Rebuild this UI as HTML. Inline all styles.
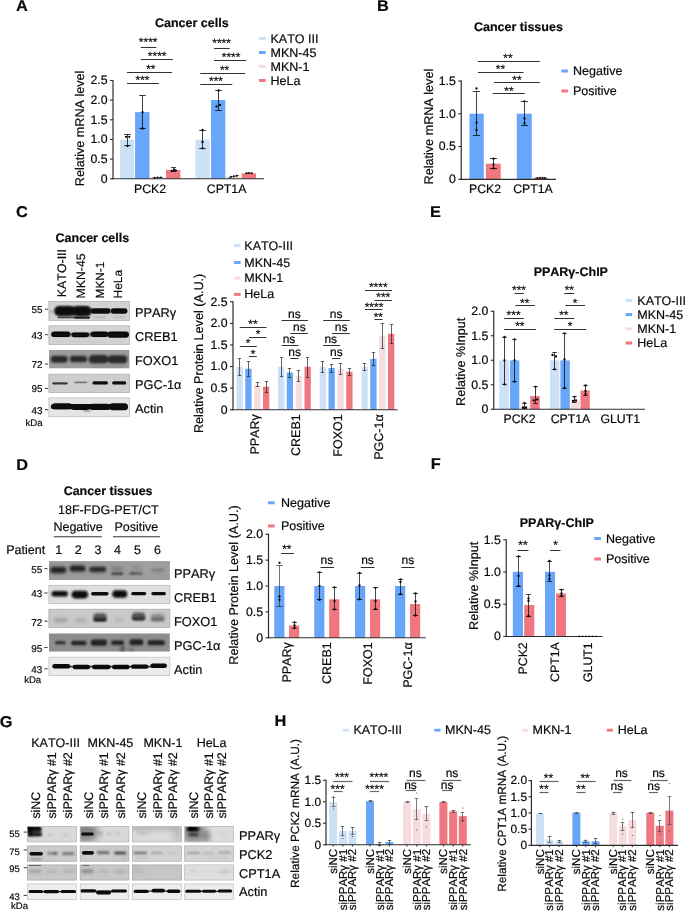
<!DOCTYPE html>
<html lang="en">
<head>
<meta charset="utf-8">
<title>Figure</title>
<style>
html,body{margin:0;padding:0;background:#ffffff;}
body{width:685px;height:911px;overflow:hidden;font-family:"Liberation Sans",sans-serif;}
svg{display:block;font-family:"Liberation Sans",sans-serif;will-change:transform;text-rendering:geometricPrecision;font-kerning:none;}
svg text{fill:#0a0a0a;stroke:#000;stroke-width:0.18px;}
</style>
</head>
<body>
<svg width="685" height="911" viewBox="0 0 685 911">
<defs>
<filter id="b6" x="-50%" y="-150%" width="200%" height="400%"><feGaussianBlur stdDeviation="0.6"/></filter>
<filter id="b7" x="-50%" y="-150%" width="200%" height="400%"><feGaussianBlur stdDeviation="0.7"/></filter>
<filter id="b8" x="-50%" y="-150%" width="200%" height="400%"><feGaussianBlur stdDeviation="0.8"/></filter>
<filter id="b9" x="-50%" y="-150%" width="200%" height="400%"><feGaussianBlur stdDeviation="0.9"/></filter>
<filter id="b10" x="-50%" y="-150%" width="200%" height="400%"><feGaussianBlur stdDeviation="1"/></filter>
<filter id="b13" x="-50%" y="-150%" width="200%" height="400%"><feGaussianBlur stdDeviation="1.3"/></filter>
<filter id="b15" x="-50%" y="-150%" width="200%" height="400%"><feGaussianBlur stdDeviation="1.5"/></filter>
<filter id="b20" x="-50%" y="-150%" width="200%" height="400%"><feGaussianBlur stdDeviation="2"/></filter>
<filter id="b30" x="-50%" y="-150%" width="200%" height="400%"><feGaussianBlur stdDeviation="3"/></filter>
</defs>
<rect x="0" y="0" width="685" height="911" fill="#ffffff"/>
<text transform="translate(16 11.4) scale(1.05 1)" font-size="15.6" font-weight="bold" fill="#000">A</text>
<text transform="translate(377 11.3) scale(1.05 1)" font-size="15.6" font-weight="bold" fill="#000">B</text>
<text transform="translate(16 217.3) scale(1.05 1)" font-size="15.6" font-weight="bold" fill="#000">C</text>
<text transform="translate(430 217.3) scale(1.05 1)" font-size="15.6" font-weight="bold" fill="#000">E</text>
<text transform="translate(16.2 469.7) scale(1.05 1)" font-size="15.6" font-weight="bold" fill="#000">D</text>
<text transform="translate(430.7 469.1) scale(1.05 1)" font-size="15.6" font-weight="bold" fill="#000">F</text>
<text transform="translate(-0.3 726.7) scale(1.05 1)" font-size="15.6" font-weight="bold" fill="#000">G</text>
<text transform="translate(274.6 726.3) scale(1.05 1)" font-size="15.6" font-weight="bold" fill="#000">H</text>
<text x="191.8" y="26.5" font-size="12.5" text-anchor="middle" font-weight="bold" fill="#000">Cancer cells</text>
<rect x="120" y="139.6" width="14.1" height="39.15" fill="#cce0f6"/>
<rect x="135.1" y="112.1" width="14.4" height="66.65" fill="#68a6fa"/>
<rect x="150.4" y="177.7" width="14.2" height="1.05" fill="#f6dcdf"/>
<rect x="166" y="170" width="14.3" height="8.75" fill="#f0767f"/>
<rect x="195.5" y="139.6" width="14.3" height="39.15" fill="#cce0f6"/>
<rect x="211" y="100" width="14.3" height="78.75" fill="#68a6fa"/>
<rect x="226.6" y="176.4" width="14" height="2.35" fill="#f6dcdf"/>
<rect x="241.8" y="173.3" width="14.2" height="5.45" fill="#f0767f"/>
<line x1="112.4" y1="178.75" x2="264" y2="178.75" stroke="#2c2c2c" stroke-width="1.2"/>
<line x1="113" y1="79.9" x2="113" y2="179.35" stroke="#2c2c2c" stroke-width="1.2"/>
<line x1="110" y1="80.5" x2="113" y2="80.5" stroke="#2c2c2c" stroke-width="1.1"/>
<text x="107.5" y="84.43" font-size="12.3" text-anchor="end">2.5</text>
<line x1="110" y1="100.15" x2="113" y2="100.15" stroke="#2c2c2c" stroke-width="1.1"/>
<text x="107.5" y="104.08" font-size="12.3" text-anchor="end">2.0</text>
<line x1="110" y1="119.8" x2="113" y2="119.8" stroke="#2c2c2c" stroke-width="1.1"/>
<text x="107.5" y="123.73" font-size="12.3" text-anchor="end">1.5</text>
<line x1="110" y1="139.45" x2="113" y2="139.45" stroke="#2c2c2c" stroke-width="1.1"/>
<text x="107.5" y="143.38" font-size="12.3" text-anchor="end">1.0</text>
<line x1="110" y1="159.1" x2="113" y2="159.1" stroke="#2c2c2c" stroke-width="1.1"/>
<text x="107.5" y="163.03" font-size="12.3" text-anchor="end">0.5</text>
<line x1="110" y1="178.75" x2="113" y2="178.75" stroke="#2c2c2c" stroke-width="1.1"/>
<text x="107.5" y="182.68" font-size="12.3" text-anchor="end">0</text>
<text x="83.6" y="128.4" font-size="12.62" text-anchor="middle" transform="rotate(-90 83.6 128.4)">Relative mRNA level</text>
<text x="150" y="192.7" font-size="12.3" text-anchor="middle">PCK2</text>
<text x="226.6" y="192.7" font-size="12.3" text-anchor="middle">CPT1A</text>
<line x1="127.5" y1="134.5" x2="127.5" y2="145.5" stroke="#000" stroke-width="0.75"/>
<line x1="124.2" y1="134.5" x2="130.8" y2="134.5" stroke="#000" stroke-width="0.75"/>
<line x1="124.2" y1="145.5" x2="130.8" y2="145.5" stroke="#000" stroke-width="0.75"/>
<circle cx="126" cy="136.8" r="1.15" fill="#000"/>
<circle cx="129.3" cy="136.8" r="1.15" fill="#000"/>
<circle cx="127.5" cy="146.2" r="1.15" fill="#000"/>
<line x1="142.5" y1="95.5" x2="142.5" y2="128.5" stroke="#000" stroke-width="0.75"/>
<line x1="139.2" y1="95.5" x2="145.8" y2="95.5" stroke="#000" stroke-width="0.75"/>
<line x1="139.2" y1="128.5" x2="145.8" y2="128.5" stroke="#000" stroke-width="0.75"/>
<circle cx="142.5" cy="112.2" r="1.15" fill="#000"/>
<circle cx="142.5" cy="128.5" r="1.15" fill="#000"/>
<line x1="152.5" y1="178" x2="163" y2="177.4" stroke="#222" stroke-width="0.7"/>
<circle cx="154.5" cy="177.7" r="0.95" fill="#000"/>
<circle cx="157.5" cy="177.5" r="0.95" fill="#000"/>
<circle cx="160.5" cy="177.4" r="0.95" fill="#000"/>
<line x1="173.5" y1="167.5" x2="173.5" y2="171.5" stroke="#000" stroke-width="0.7"/>
<line x1="170.9" y1="167.5" x2="176.1" y2="167.5" stroke="#000" stroke-width="0.7"/>
<line x1="170.9" y1="171.5" x2="176.1" y2="171.5" stroke="#000" stroke-width="0.7"/>
<circle cx="171.7" cy="171" r="1.15" fill="#000"/>
<circle cx="174.3" cy="169.6" r="1.15" fill="#000"/>
<circle cx="175.9" cy="170.6" r="1.15" fill="#000"/>
<line x1="202.5" y1="130.5" x2="202.5" y2="148.5" stroke="#000" stroke-width="0.75"/>
<line x1="199.2" y1="130.5" x2="205.8" y2="130.5" stroke="#000" stroke-width="0.75"/>
<line x1="199.2" y1="148.5" x2="205.8" y2="148.5" stroke="#000" stroke-width="0.75"/>
<circle cx="202.5" cy="130" r="1.15" fill="#000"/>
<circle cx="202.5" cy="142" r="1.15" fill="#000"/>
<circle cx="202.5" cy="148.3" r="1.15" fill="#000"/>
<line x1="218.5" y1="90.5" x2="218.5" y2="110.5" stroke="#000" stroke-width="0.75"/>
<line x1="215.2" y1="90.5" x2="221.8" y2="90.5" stroke="#000" stroke-width="0.75"/>
<line x1="215.2" y1="110.5" x2="221.8" y2="110.5" stroke="#000" stroke-width="0.75"/>
<circle cx="218.5" cy="90.5" r="1.15" fill="#000"/>
<circle cx="216.5" cy="106.5" r="1.15" fill="#000"/>
<circle cx="220" cy="105" r="1.15" fill="#000"/>
<line x1="228.5" y1="177.6" x2="239" y2="175.4" stroke="#222" stroke-width="0.7"/>
<circle cx="231" cy="176.8" r="0.95" fill="#000"/>
<circle cx="233.8" cy="176.2" r="0.95" fill="#000"/>
<circle cx="236.6" cy="175.8" r="0.95" fill="#000"/>
<line x1="245" y1="173.2" x2="253" y2="173.2" stroke="#222" stroke-width="0.7"/>
<circle cx="246.6" cy="173.2" r="0.95" fill="#000"/>
<circle cx="249" cy="172.9" r="0.95" fill="#000"/>
<circle cx="251.6" cy="173.2" r="0.95" fill="#000"/>
<line x1="140.8" y1="47.5" x2="156.3" y2="47.5" stroke="#262626" stroke-width="0.95"/>
<text x="148.2" y="46.4" font-size="12" text-anchor="middle">****</text>
<line x1="140.8" y1="59.5" x2="172.8" y2="59.5" stroke="#262626" stroke-width="0.95"/>
<text x="157.2" y="60.3" font-size="12" text-anchor="middle">****</text>
<line x1="127" y1="72.5" x2="172" y2="72.5" stroke="#262626" stroke-width="0.95"/>
<text x="150.8" y="73.1" font-size="12" text-anchor="middle">**</text>
<line x1="127" y1="83.5" x2="158.8" y2="83.5" stroke="#262626" stroke-width="0.95"/>
<text x="142.5" y="84.1" font-size="12" text-anchor="middle">***</text>
<line x1="214" y1="48.5" x2="229.8" y2="48.5" stroke="#262626" stroke-width="0.95"/>
<text x="221.6" y="47.3" font-size="12" text-anchor="middle">****</text>
<line x1="214" y1="60.5" x2="246.2" y2="60.5" stroke="#262626" stroke-width="0.95"/>
<text x="231.1" y="61.3" font-size="12" text-anchor="middle">****</text>
<line x1="200.3" y1="73.5" x2="245.2" y2="73.5" stroke="#262626" stroke-width="0.95"/>
<text x="224.6" y="74.1" font-size="12" text-anchor="middle">**</text>
<line x1="200.3" y1="84.5" x2="232.3" y2="84.5" stroke="#262626" stroke-width="0.95"/>
<text x="216" y="85.1" font-size="12" text-anchor="middle">***</text>
<rect x="259" y="37" width="6.6" height="3" fill="#cce0f6"/>
<text x="270.5" y="42.5" font-size="12.5">KATO III</text>
<rect x="259" y="51" width="6.6" height="3" fill="#68a6fa"/>
<text x="270.5" y="56.5" font-size="12.5">MKN-45</text>
<rect x="259" y="65" width="6.6" height="3" fill="#f6dcdf"/>
<text x="270.5" y="70.5" font-size="12.5">MKN-1</text>
<rect x="259" y="79" width="6.6" height="3" fill="#f0767f"/>
<text x="270.5" y="84.5" font-size="12.5">HeLa</text>
<text x="518.4" y="31.3" font-size="12.5" text-anchor="middle" font-weight="bold" fill="#000">Cancer tissues</text>
<rect x="469.5" y="113.7" width="14.3" height="65.6" fill="#68a6fa"/>
<rect x="485.8" y="163.7" width="14.9" height="15.6" fill="#f0767f"/>
<rect x="516.8" y="113.7" width="15" height="65.6" fill="#68a6fa"/>
<rect x="533" y="178" width="15" height="1.3" fill="#f0767f"/>
<line x1="460.65" y1="179.3" x2="556" y2="179.3" stroke="#2c2c2c" stroke-width="1.2"/>
<line x1="461.25" y1="80.45" x2="461.25" y2="179.9" stroke="#2c2c2c" stroke-width="1.2"/>
<line x1="458.25" y1="81.05" x2="461.25" y2="81.05" stroke="#2c2c2c" stroke-width="1.1"/>
<text x="455.75" y="84.98" font-size="12.3" text-anchor="end">1.5</text>
<line x1="458.25" y1="113.8" x2="461.25" y2="113.8" stroke="#2c2c2c" stroke-width="1.1"/>
<text x="455.75" y="117.73" font-size="12.3" text-anchor="end">1.0</text>
<line x1="458.25" y1="146.55" x2="461.25" y2="146.55" stroke="#2c2c2c" stroke-width="1.1"/>
<text x="455.75" y="150.48" font-size="12.3" text-anchor="end">0.5</text>
<line x1="458.25" y1="179.3" x2="461.25" y2="179.3" stroke="#2c2c2c" stroke-width="1.1"/>
<text x="455.75" y="183.23" font-size="12.3" text-anchor="end">0</text>
<text x="433.1" y="126.6" font-size="12.62" text-anchor="middle" transform="rotate(-90 433.1 126.6)">Relative mRNA level</text>
<text x="485" y="192.7" font-size="12.3" text-anchor="middle">PCK2</text>
<text x="533" y="192.7" font-size="12.3" text-anchor="middle">CPT1A</text>
<line x1="476.5" y1="91.5" x2="476.5" y2="135.5" stroke="#000" stroke-width="0.75"/>
<line x1="472.9" y1="91.5" x2="480.1" y2="91.5" stroke="#000" stroke-width="0.75"/>
<line x1="472.9" y1="135.5" x2="480.1" y2="135.5" stroke="#000" stroke-width="0.75"/>
<circle cx="476.5" cy="88.5" r="1.15" fill="#000"/>
<circle cx="476.5" cy="122.7" r="1.15" fill="#000"/>
<circle cx="476.5" cy="130" r="1.15" fill="#000"/>
<line x1="493.5" y1="158.5" x2="493.5" y2="168.5" stroke="#000" stroke-width="0.75"/>
<line x1="489.9" y1="158.5" x2="497.1" y2="158.5" stroke="#000" stroke-width="0.75"/>
<line x1="489.9" y1="168.5" x2="497.1" y2="168.5" stroke="#000" stroke-width="0.75"/>
<circle cx="493.5" cy="158.7" r="1.15" fill="#000"/>
<circle cx="493.5" cy="164.5" r="1.15" fill="#000"/>
<circle cx="493.5" cy="168.3" r="1.15" fill="#000"/>
<line x1="524.5" y1="101.5" x2="524.5" y2="125.5" stroke="#000" stroke-width="0.75"/>
<line x1="520.9" y1="101.5" x2="528.1" y2="101.5" stroke="#000" stroke-width="0.75"/>
<line x1="520.9" y1="125.5" x2="528.1" y2="125.5" stroke="#000" stroke-width="0.75"/>
<circle cx="524.5" cy="101.3" r="1.15" fill="#000"/>
<circle cx="524.5" cy="118.5" r="1.15" fill="#000"/>
<circle cx="524.5" cy="123" r="1.15" fill="#000"/>
<line x1="535" y1="178.2" x2="546.5" y2="177.8" stroke="#222" stroke-width="0.7"/>
<circle cx="537.5" cy="178" r="0.9" fill="#000"/>
<circle cx="540" cy="177.7" r="0.9" fill="#000"/>
<circle cx="542.6" cy="177.7" r="0.9" fill="#000"/>
<circle cx="545" cy="178" r="0.9" fill="#000"/>
<line x1="477.8" y1="61.5" x2="539.8" y2="61.5" stroke="#262626" stroke-width="0.95"/>
<text x="508" y="62" font-size="12" text-anchor="middle">**</text>
<line x1="477.8" y1="72.5" x2="523.5" y2="72.5" stroke="#262626" stroke-width="0.95"/>
<text x="500.5" y="73" font-size="12" text-anchor="middle">**</text>
<line x1="494" y1="82.5" x2="539.8" y2="82.5" stroke="#262626" stroke-width="0.95"/>
<text x="517" y="83.6" font-size="12" text-anchor="middle">**</text>
<line x1="492.8" y1="93.5" x2="524.8" y2="93.5" stroke="#262626" stroke-width="0.95"/>
<text x="509" y="94.6" font-size="12" text-anchor="middle">**</text>
<rect x="561.3" y="69.5" width="6.6" height="3" fill="#68a6fa"/>
<text x="573" y="75" font-size="12.5">Negative</text>
<rect x="561.3" y="89.5" width="6.6" height="3" fill="#f0767f"/>
<text x="573" y="95" font-size="12.5">Positive</text>
<text x="92.4" y="242" font-size="12.5" text-anchor="middle" font-weight="bold" fill="#000">Cancer cells</text>
<text x="65.9" y="297.2" font-size="12.4" transform="rotate(-90 65.9 297.2)">KATO-III</text>
<text x="85.1" y="298.4" font-size="12.25" transform="rotate(-90 85.1 298.4)">MKN-45</text>
<text x="103.9" y="298.4" font-size="11.8" transform="rotate(-90 103.9 298.4)">MKN-1</text>
<text x="122.1" y="298.4" font-size="11.9" transform="rotate(-90 122.1 298.4)">HeLa</text>
<clipPath id="c1"><rect x="48.9" y="301.4" width="80.7" height="19.2"/></clipPath>
<g clip-path="url(#c1)">
<rect x="48.9" y="301.4" width="80.7" height="19.2" fill="#d3d3d3"/>
<rect x="54.5" y="306.8" width="37" height="8.4" rx="4.2" ry="4.2" fill="#0a0a0a" opacity="1" filter="url(#b8)"/>
<rect x="55" y="306.5" width="19" height="9" rx="4.5" ry="4.5" fill="#0a0a0a" opacity="1" filter="url(#b8)"/>
<rect x="73" y="306.5" width="18" height="9.4" rx="4.7" ry="4.7" fill="#0a0a0a" opacity="1" filter="url(#b8)"/>
<rect x="90.75" y="308.2" width="19.5" height="5.6" rx="2.8" ry="2.8" fill="#0a0a0a" opacity="1" filter="url(#b6)"/>
<rect x="110.95" y="308.2" width="16.5" height="5.6" rx="2.8" ry="2.8" fill="#0a0a0a" opacity="1" filter="url(#b6)"/>
<rect x="107" y="309.5" width="6" height="3" rx="1.5" ry="1.5" fill="#0a0a0a" opacity="0.7" filter="url(#b8)"/>
<rect x="57.5" y="316.5" width="17" height="1.8" rx="0.9" ry="0.9" fill="#222" opacity="0.8" filter="url(#b6)"/>
<rect x="74" y="316.6" width="16" height="2.2" rx="1.1" ry="1.1" fill="#111" opacity="0.9" filter="url(#b6)"/>
<rect x="94" y="316.55" width="12" height="1.5" rx="0.75" ry="0.75" fill="#555" opacity="0.35" filter="url(#b10)"/>
<rect x="113" y="316.55" width="12" height="1.5" rx="0.75" ry="0.75" fill="#555" opacity="0.3" filter="url(#b10)"/>
<rect x="49.5" y="310" width="5" height="3" rx="1.5" ry="1.5" fill="#777" opacity="0.4" filter="url(#b10)"/>
</g>
<rect x="48.9" y="301.4" width="80.7" height="19.2" fill="none" stroke="#a8a8a8" stroke-width="0.7"/>
<clipPath id="c2"><rect x="48.9" y="325.8" width="80.7" height="18.8"/></clipPath>
<g clip-path="url(#c2)">
<rect x="48.9" y="325.8" width="80.7" height="18.8" fill="#d5d5d5"/>
<rect x="51.2" y="331.5" width="19" height="5.6" rx="2.8" ry="2.8" fill="#0a0a0a" opacity="1" filter="url(#b7)"/>
<rect x="71.55" y="332.4" width="17.5" height="4.8" rx="2.4" ry="2.4" fill="#0a0a0a" opacity="1" filter="url(#b7)"/>
<rect x="90.75" y="331.6" width="17.5" height="5.4" rx="2.7" ry="2.7" fill="#0a0a0a" opacity="1" filter="url(#b7)"/>
<rect x="107.55" y="331.5" width="21.5" height="6.2" rx="3.1" ry="3.1" fill="#0a0a0a" opacity="1" filter="url(#b7)"/>
<rect x="54" y="333.5" width="72" height="2.2" rx="1.1" ry="1.1" fill="#0a0a0a" opacity="0.9" filter="url(#b8)"/>
<rect x="55" y="340.5" width="70" height="2" rx="1" ry="1" fill="#bbb" opacity="0.5" filter="url(#b15)"/>
</g>
<rect x="48.9" y="325.8" width="80.7" height="18.8" fill="none" stroke="#aaaaaa" stroke-width="0.7"/>
<clipPath id="c3"><rect x="48.9" y="350" width="80.7" height="18.6"/></clipPath>
<g clip-path="url(#c3)">
<rect x="48.9" y="350" width="80.7" height="18.6" fill="#9c9c9c"/>
<rect x="50.7" y="355.7" width="17" height="7" rx="3.5" ry="3.5" fill="#2c2c2c" opacity="1" filter="url(#b9)"/>
<rect x="69.8" y="355.8" width="17.4" height="6.4" rx="3.2" ry="3.2" fill="#2c2c2c" opacity="1" filter="url(#b9)"/>
<rect x="88.7" y="354.9" width="19.4" height="8.6" rx="4.3" ry="4.3" fill="#2c2c2c" opacity="1" filter="url(#b9)"/>
<rect x="108.4" y="355.3" width="18.8" height="8.2" rx="4.1" ry="4.1" fill="#2c2c2c" opacity="1" filter="url(#b9)"/>
<rect x="102" y="357.05" width="12" height="4.5" rx="2.25" ry="2.25" fill="#2c2c2c" opacity="0.9" filter="url(#b9)"/>
<rect x="93" y="364.5" width="30" height="3" rx="1.5" ry="1.5" fill="#8a8a8a" opacity="0.6" filter="url(#b15)"/>
</g>
<clipPath id="c4"><rect x="48.9" y="374.2" width="80.7" height="18.4"/></clipPath>
<g clip-path="url(#c4)">
<rect x="48.9" y="374.2" width="80.7" height="18.4" fill="#cecece"/>
<rect x="52.25" y="382.2" width="15.5" height="2.2" rx="1.1" ry="1.1" fill="#222" opacity="0.85" filter="url(#b6)"/>
<rect x="74.3" y="381.4" width="13" height="1.8" rx="0.9" ry="0.9" fill="#333" opacity="0.55" filter="url(#b6)"/>
<rect x="92.45" y="381.3" width="15.5" height="3.2" rx="1.6" ry="1.6" fill="#0a0a0a" opacity="1" filter="url(#b6)"/>
<rect x="112.2" y="381.3" width="14" height="3.2" rx="1.6" ry="1.6" fill="#0a0a0a" opacity="1" filter="url(#b6)"/>
</g>
<rect x="48.9" y="374.2" width="80.7" height="18.4" fill="none" stroke="#a4a4a4" stroke-width="0.7"/>
<clipPath id="c5"><rect x="48.9" y="397.9" width="80.7" height="18.6"/></clipPath>
<g clip-path="url(#c5)">
<rect x="48.9" y="397.9" width="80.7" height="18.6" fill="#e5e5e5"/>
<rect x="50.8" y="403.9" width="77" height="5.4" rx="2.7" ry="2.7" fill="#0a0a0a" opacity="1" filter="url(#b7)"/>
<rect x="52" y="403.3" width="20" height="6" rx="3" ry="3" fill="#0a0a0a" opacity="1" filter="url(#b7)"/>
<rect x="71" y="404.1" width="18" height="6" rx="3" ry="3" fill="#0a0a0a" opacity="1" filter="url(#b7)"/>
<rect x="90" y="403.7" width="20" height="6.4" rx="3.2" ry="3.2" fill="#0a0a0a" opacity="1" filter="url(#b7)"/>
<rect x="109" y="403.2" width="19" height="7" rx="3.5" ry="3.5" fill="#0a0a0a" opacity="1" filter="url(#b7)"/>
<rect x="83.5" y="408.8" width="7" height="2.4" rx="1.2" ry="1.2" fill="#0a0a0a" opacity="0.5" filter="url(#b8)"/>
</g>
<rect x="48.9" y="397.9" width="80.7" height="18.6" fill="none" stroke="#b7b7b7" stroke-width="0.7"/>
<text x="42.5" y="313.11" font-size="9.9" text-anchor="end">55</text>
<line x1="44.9" y1="309.2" x2="48.1" y2="309.2" stroke="#222" stroke-width="0.9"/>
<text x="42.5" y="338.61" font-size="9.9" text-anchor="end">43</text>
<line x1="44.9" y1="334.7" x2="48.1" y2="334.7" stroke="#222" stroke-width="0.9"/>
<text x="42.5" y="368.01" font-size="9.9" text-anchor="end">72</text>
<line x1="44.9" y1="364.1" x2="48.1" y2="364.1" stroke="#222" stroke-width="0.9"/>
<text x="42.5" y="392.31" font-size="9.9" text-anchor="end">95</text>
<line x1="44.9" y1="388.4" x2="48.1" y2="388.4" stroke="#222" stroke-width="0.9"/>
<text x="42.5" y="413.61" font-size="9.9" text-anchor="end">43</text>
<line x1="44.9" y1="409.7" x2="48.1" y2="409.7" stroke="#222" stroke-width="0.9"/>
<text x="42.5" y="426" font-size="9.6" text-anchor="end">kDa</text>
<text x="135" y="317.1" font-size="12.8">PPARγ</text>
<text x="135" y="341.1" font-size="12.8">CREB1</text>
<text x="135" y="364.8" font-size="12.8">FOXO1</text>
<text x="135" y="389.1" font-size="12.8">PGC-1α</text>
<text x="135" y="412.7" font-size="12.8">Actin</text>
<rect x="234" y="244.1" width="6.6" height="3" fill="#cce0f6"/>
<text x="244.3" y="249.6" font-size="12.5">KATO-III</text>
<rect x="234" y="261" width="6.6" height="3" fill="#68a6fa"/>
<text x="244.3" y="266.5" font-size="12.5">MKN-45</text>
<rect x="234" y="276.6" width="6.6" height="3" fill="#f6dcdf"/>
<text x="244.3" y="282.1" font-size="12.5">MKN-1</text>
<rect x="234" y="292.9" width="6.6" height="3" fill="#f0767f"/>
<text x="244.3" y="298.4" font-size="12.5">HeLa</text>
<rect x="236.5" y="366.75" width="6.3" height="43" fill="#cce0f6"/>
<rect x="245.25" y="368.75" width="6.3" height="41" fill="#68a6fa"/>
<rect x="254.2" y="385" width="6.3" height="24.75" fill="#f6dcdf"/>
<rect x="263" y="386.75" width="6.3" height="23" fill="#f0767f"/>
<rect x="278" y="366.75" width="6.3" height="43" fill="#cce0f6"/>
<rect x="286.75" y="372.5" width="6.3" height="37.25" fill="#68a6fa"/>
<rect x="295.7" y="376" width="6.3" height="33.75" fill="#f6dcdf"/>
<rect x="304.5" y="366.75" width="6.3" height="43" fill="#f0767f"/>
<rect x="319.75" y="366.75" width="6.3" height="43" fill="#cce0f6"/>
<rect x="328.5" y="368" width="6.3" height="41.75" fill="#68a6fa"/>
<rect x="337.45" y="368.6" width="6.3" height="41.15" fill="#f6dcdf"/>
<rect x="346.25" y="371.75" width="6.3" height="38" fill="#f0767f"/>
<rect x="361.5" y="366.75" width="6.3" height="43" fill="#cce0f6"/>
<rect x="370.25" y="358.75" width="6.3" height="51" fill="#68a6fa"/>
<rect x="379.2" y="336" width="6.3" height="73.75" fill="#f6dcdf"/>
<rect x="388" y="333.75" width="6.3" height="76" fill="#f0767f"/>
<line x1="232.4" y1="409.75" x2="397.5" y2="409.75" stroke="#2c2c2c" stroke-width="1.2"/>
<line x1="233" y1="301.15" x2="233" y2="410.35" stroke="#2c2c2c" stroke-width="1.2"/>
<line x1="230" y1="301.75" x2="233" y2="301.75" stroke="#2c2c2c" stroke-width="1.1"/>
<text x="227.5" y="305.68" font-size="12.3" text-anchor="end">2.5</text>
<line x1="230" y1="323.35" x2="233" y2="323.35" stroke="#2c2c2c" stroke-width="1.1"/>
<text x="227.5" y="327.28" font-size="12.3" text-anchor="end">2.0</text>
<line x1="230" y1="344.95" x2="233" y2="344.95" stroke="#2c2c2c" stroke-width="1.1"/>
<text x="227.5" y="348.88" font-size="12.3" text-anchor="end">1.5</text>
<line x1="230" y1="366.55" x2="233" y2="366.55" stroke="#2c2c2c" stroke-width="1.1"/>
<text x="227.5" y="370.48" font-size="12.3" text-anchor="end">1.0</text>
<line x1="230" y1="388.15" x2="233" y2="388.15" stroke="#2c2c2c" stroke-width="1.1"/>
<text x="227.5" y="392.08" font-size="12.3" text-anchor="end">0.5</text>
<line x1="230" y1="409.75" x2="233" y2="409.75" stroke="#2c2c2c" stroke-width="1.1"/>
<text x="227.5" y="413.68" font-size="12.3" text-anchor="end">0</text>
<line x1="239.5" y1="358.5" x2="239.5" y2="375.5" stroke="#222" stroke-width="0.7"/>
<line x1="237.8" y1="358.5" x2="241.2" y2="358.5" stroke="#222" stroke-width="0.7"/>
<line x1="237.8" y1="375.5" x2="241.2" y2="375.5" stroke="#222" stroke-width="0.7"/>
<line x1="248.5" y1="361.5" x2="248.5" y2="376.5" stroke="#222" stroke-width="0.7"/>
<line x1="246.8" y1="361.5" x2="250.2" y2="361.5" stroke="#222" stroke-width="0.7"/>
<line x1="246.8" y1="376.5" x2="250.2" y2="376.5" stroke="#222" stroke-width="0.7"/>
<line x1="257.5" y1="382.5" x2="257.5" y2="386.5" stroke="#222" stroke-width="0.7"/>
<line x1="255.8" y1="382.5" x2="259.2" y2="382.5" stroke="#222" stroke-width="0.7"/>
<line x1="255.8" y1="386.5" x2="259.2" y2="386.5" stroke="#222" stroke-width="0.7"/>
<line x1="266.5" y1="381.5" x2="266.5" y2="392.5" stroke="#222" stroke-width="0.7"/>
<line x1="264.8" y1="381.5" x2="268.2" y2="381.5" stroke="#222" stroke-width="0.7"/>
<line x1="264.8" y1="392.5" x2="268.2" y2="392.5" stroke="#222" stroke-width="0.7"/>
<line x1="281.5" y1="357.5" x2="281.5" y2="376.5" stroke="#222" stroke-width="0.7"/>
<line x1="279.8" y1="357.5" x2="283.2" y2="357.5" stroke="#222" stroke-width="0.7"/>
<line x1="279.8" y1="376.5" x2="283.2" y2="376.5" stroke="#222" stroke-width="0.7"/>
<line x1="289.5" y1="368.5" x2="289.5" y2="377.5" stroke="#222" stroke-width="0.7"/>
<line x1="287.8" y1="368.5" x2="291.2" y2="368.5" stroke="#222" stroke-width="0.7"/>
<line x1="287.8" y1="377.5" x2="291.2" y2="377.5" stroke="#222" stroke-width="0.7"/>
<line x1="298.5" y1="370.5" x2="298.5" y2="381.5" stroke="#222" stroke-width="0.7"/>
<line x1="296.8" y1="370.5" x2="300.2" y2="370.5" stroke="#222" stroke-width="0.7"/>
<line x1="296.8" y1="381.5" x2="300.2" y2="381.5" stroke="#222" stroke-width="0.7"/>
<line x1="307.5" y1="357.5" x2="307.5" y2="377.5" stroke="#222" stroke-width="0.7"/>
<line x1="305.8" y1="357.5" x2="309.2" y2="357.5" stroke="#222" stroke-width="0.7"/>
<line x1="305.8" y1="377.5" x2="309.2" y2="377.5" stroke="#222" stroke-width="0.7"/>
<line x1="322.5" y1="361.5" x2="322.5" y2="372.5" stroke="#222" stroke-width="0.7"/>
<line x1="320.8" y1="361.5" x2="324.2" y2="361.5" stroke="#222" stroke-width="0.7"/>
<line x1="320.8" y1="372.5" x2="324.2" y2="372.5" stroke="#222" stroke-width="0.7"/>
<line x1="331.5" y1="364.5" x2="331.5" y2="372.5" stroke="#222" stroke-width="0.7"/>
<line x1="329.8" y1="364.5" x2="333.2" y2="364.5" stroke="#222" stroke-width="0.7"/>
<line x1="329.8" y1="372.5" x2="333.2" y2="372.5" stroke="#222" stroke-width="0.7"/>
<line x1="340.5" y1="363.5" x2="340.5" y2="374.5" stroke="#222" stroke-width="0.7"/>
<line x1="338.8" y1="363.5" x2="342.2" y2="363.5" stroke="#222" stroke-width="0.7"/>
<line x1="338.8" y1="374.5" x2="342.2" y2="374.5" stroke="#222" stroke-width="0.7"/>
<line x1="349.5" y1="368.5" x2="349.5" y2="375.5" stroke="#222" stroke-width="0.7"/>
<line x1="347.8" y1="368.5" x2="351.2" y2="368.5" stroke="#222" stroke-width="0.7"/>
<line x1="347.8" y1="375.5" x2="351.2" y2="375.5" stroke="#222" stroke-width="0.7"/>
<line x1="364.5" y1="363.5" x2="364.5" y2="370.5" stroke="#222" stroke-width="0.7"/>
<line x1="362.8" y1="363.5" x2="366.2" y2="363.5" stroke="#222" stroke-width="0.7"/>
<line x1="362.8" y1="370.5" x2="366.2" y2="370.5" stroke="#222" stroke-width="0.7"/>
<line x1="373.5" y1="352.5" x2="373.5" y2="365.5" stroke="#222" stroke-width="0.7"/>
<line x1="371.8" y1="352.5" x2="375.2" y2="352.5" stroke="#222" stroke-width="0.7"/>
<line x1="371.8" y1="365.5" x2="375.2" y2="365.5" stroke="#222" stroke-width="0.7"/>
<line x1="382.5" y1="323.5" x2="382.5" y2="348.5" stroke="#222" stroke-width="0.7"/>
<line x1="380.8" y1="323.5" x2="384.2" y2="323.5" stroke="#222" stroke-width="0.7"/>
<line x1="380.8" y1="348.5" x2="384.2" y2="348.5" stroke="#222" stroke-width="0.7"/>
<line x1="391.5" y1="324.5" x2="391.5" y2="343.5" stroke="#222" stroke-width="0.7"/>
<line x1="389.8" y1="324.5" x2="393.2" y2="324.5" stroke="#222" stroke-width="0.7"/>
<line x1="389.8" y1="343.5" x2="393.2" y2="343.5" stroke="#222" stroke-width="0.7"/>
<text x="203.2" y="353.4" font-size="12.63" text-anchor="middle" transform="rotate(-90 203.2 353.4)">Relative Protein Level (A.U.)</text>
<text x="259" y="414.3" font-size="12.5" text-anchor="end" transform="rotate(-90 259 414.3)">PPARγ</text>
<text x="300.4" y="414.3" font-size="12.5" text-anchor="end" transform="rotate(-90 300.4 414.3)">CREB1</text>
<text x="341.6" y="414.3" font-size="12.5" text-anchor="end" transform="rotate(-90 341.6 414.3)">FOXO1</text>
<text x="383.2" y="414.3" font-size="12.5" text-anchor="end" transform="rotate(-90 383.2 414.3)">PGC-1α</text>
<line x1="239.8" y1="327.5" x2="266.5" y2="327.5" stroke="#262626" stroke-width="0.95"/>
<text x="253" y="328.1" font-size="12" text-anchor="middle">**</text>
<line x1="249" y1="337.5" x2="266.5" y2="337.5" stroke="#262626" stroke-width="0.95"/>
<text x="258" y="338.1" font-size="12" text-anchor="middle">*</text>
<line x1="239.8" y1="346.5" x2="256.8" y2="346.5" stroke="#262626" stroke-width="0.95"/>
<text x="248" y="347.3" font-size="12" text-anchor="middle">*</text>
<line x1="249" y1="356.5" x2="256.8" y2="356.5" stroke="#262626" stroke-width="0.95"/>
<text x="253" y="357.6" font-size="12" text-anchor="middle">*</text>
<line x1="281.5" y1="320.5" x2="308" y2="320.5" stroke="#262626" stroke-width="0.95"/>
<text x="294.3" y="317.8" font-size="12" text-anchor="middle">ns</text>
<line x1="290.3" y1="333.5" x2="308" y2="333.5" stroke="#262626" stroke-width="0.95"/>
<text x="299.3" y="331" font-size="12" text-anchor="middle">ns</text>
<line x1="281.5" y1="345.5" x2="298.5" y2="345.5" stroke="#262626" stroke-width="0.95"/>
<text x="289" y="343.1" font-size="12" text-anchor="middle">ns</text>
<line x1="290.3" y1="358.5" x2="298.5" y2="358.5" stroke="#262626" stroke-width="0.95"/>
<text x="294.7" y="355.5" font-size="12" text-anchor="middle">ns</text>
<line x1="323.25" y1="320.5" x2="349.75" y2="320.5" stroke="#262626" stroke-width="0.95"/>
<text x="336.05" y="317.8" font-size="12" text-anchor="middle">ns</text>
<line x1="332.05" y1="333.5" x2="349.75" y2="333.5" stroke="#262626" stroke-width="0.95"/>
<text x="341.05" y="331" font-size="12" text-anchor="middle">ns</text>
<line x1="323.25" y1="345.5" x2="340.25" y2="345.5" stroke="#262626" stroke-width="0.95"/>
<text x="330.75" y="343.1" font-size="12" text-anchor="middle">ns</text>
<line x1="332.05" y1="358.5" x2="340.25" y2="358.5" stroke="#262626" stroke-width="0.95"/>
<text x="336.45" y="355.5" font-size="12" text-anchor="middle">ns</text>
<line x1="365" y1="290.5" x2="392" y2="290.5" stroke="#262626" stroke-width="0.95"/>
<text x="378.3" y="290.8" font-size="12" text-anchor="middle">****</text>
<line x1="374.5" y1="300.5" x2="392" y2="300.5" stroke="#262626" stroke-width="0.95"/>
<text x="383.3" y="300.8" font-size="12" text-anchor="middle">***</text>
<line x1="365" y1="309.5" x2="382.5" y2="309.5" stroke="#262626" stroke-width="0.95"/>
<text x="374" y="310.6" font-size="12" text-anchor="middle">****</text>
<line x1="374.5" y1="319.5" x2="382.5" y2="319.5" stroke="#262626" stroke-width="0.95"/>
<text x="378.3" y="320.6" font-size="12" text-anchor="middle">**</text>
<text x="570.8" y="276.1" font-size="12.5" text-anchor="middle" font-weight="bold" fill="#000">PPARγ-ChIP</text>
<rect x="499.2" y="360.4" width="9.8" height="48.85" fill="#cce0f6"/>
<rect x="510" y="360.4" width="9.3" height="48.85" fill="#68a6fa"/>
<rect x="520" y="406.8" width="8.6" height="2.45" fill="#f6dcdf"/>
<rect x="530.2" y="396" width="9.5" height="13.25" fill="#f0767f"/>
<rect x="550" y="360.4" width="9.3" height="48.85" fill="#cce0f6"/>
<rect x="560.4" y="360.4" width="9.4" height="48.85" fill="#68a6fa"/>
<rect x="570.5" y="400.5" width="9.3" height="8.75" fill="#f6dcdf"/>
<rect x="580.5" y="390.5" width="9.3" height="18.75" fill="#f0767f"/>
<line x1="493.15" y1="409.25" x2="645" y2="409.25" stroke="#2c2c2c" stroke-width="1.2"/>
<line x1="493.75" y1="310.65" x2="493.75" y2="409.85" stroke="#2c2c2c" stroke-width="1.2"/>
<line x1="490.75" y1="311.25" x2="493.75" y2="311.25" stroke="#2c2c2c" stroke-width="1.1"/>
<text x="488.25" y="315.18" font-size="12.3" text-anchor="end">2.0</text>
<line x1="490.75" y1="335.75" x2="493.75" y2="335.75" stroke="#2c2c2c" stroke-width="1.1"/>
<text x="488.25" y="339.68" font-size="12.3" text-anchor="end">1.5</text>
<line x1="490.75" y1="360.25" x2="493.75" y2="360.25" stroke="#2c2c2c" stroke-width="1.1"/>
<text x="488.25" y="364.18" font-size="12.3" text-anchor="end">1.0</text>
<line x1="490.75" y1="384.75" x2="493.75" y2="384.75" stroke="#2c2c2c" stroke-width="1.1"/>
<text x="488.25" y="388.68" font-size="12.3" text-anchor="end">0.5</text>
<line x1="490.75" y1="409.25" x2="493.75" y2="409.25" stroke="#2c2c2c" stroke-width="1.1"/>
<text x="488.25" y="413.18" font-size="12.3" text-anchor="end">0</text>
<text x="465" y="361.8" font-size="12.6" text-anchor="middle" transform="rotate(-90 465 361.8)">Relative %Input</text>
<text x="519.5" y="423.3" font-size="12.3" text-anchor="middle">PCK2</text>
<text x="570.5" y="423.3" font-size="12.3" text-anchor="middle">CPT1A</text>
<text x="620.2" y="423.3" font-size="12.3" text-anchor="middle">GLUT1</text>
<line x1="504.5" y1="337.5" x2="504.5" y2="384.5" stroke="#000" stroke-width="0.75"/>
<line x1="502.3" y1="337.5" x2="506.7" y2="337.5" stroke="#000" stroke-width="0.75"/>
<line x1="502.3" y1="384.5" x2="506.7" y2="384.5" stroke="#000" stroke-width="0.75"/>
<circle cx="504.5" cy="337" r="1.15" fill="#000"/>
<circle cx="504.5" cy="360.4" r="1.15" fill="#000"/>
<circle cx="504.5" cy="384.4" r="1.15" fill="#000"/>
<line x1="514.5" y1="339.5" x2="514.5" y2="381.5" stroke="#000" stroke-width="0.75"/>
<line x1="512.3" y1="339.5" x2="516.7" y2="339.5" stroke="#000" stroke-width="0.75"/>
<line x1="512.3" y1="381.5" x2="516.7" y2="381.5" stroke="#000" stroke-width="0.75"/>
<circle cx="514.5" cy="339.4" r="1.15" fill="#000"/>
<circle cx="514.5" cy="360.4" r="1.15" fill="#000"/>
<circle cx="514.5" cy="381.8" r="1.15" fill="#000"/>
<line x1="524.5" y1="403.5" x2="524.5" y2="408.5" stroke="#000" stroke-width="0.75"/>
<line x1="522.3" y1="403.5" x2="526.7" y2="403.5" stroke="#000" stroke-width="0.75"/>
<line x1="522.3" y1="408.5" x2="526.7" y2="408.5" stroke="#000" stroke-width="0.75"/>
<circle cx="524.5" cy="403" r="1.15" fill="#000"/>
<circle cx="523" cy="407.5" r="1.15" fill="#000"/>
<circle cx="526" cy="407.5" r="1.15" fill="#000"/>
<line x1="535.5" y1="386.5" x2="535.5" y2="403.5" stroke="#000" stroke-width="0.75"/>
<line x1="533.3" y1="386.5" x2="537.7" y2="386.5" stroke="#000" stroke-width="0.75"/>
<line x1="533.3" y1="403.5" x2="537.7" y2="403.5" stroke="#000" stroke-width="0.75"/>
<circle cx="535.5" cy="386.8" r="1.15" fill="#000"/>
<circle cx="533.7" cy="400.5" r="1.15" fill="#000"/>
<circle cx="537.3" cy="399.5" r="1.15" fill="#000"/>
<line x1="554.5" y1="352.5" x2="554.5" y2="369.5" stroke="#000" stroke-width="0.75"/>
<line x1="552.3" y1="352.5" x2="556.7" y2="352.5" stroke="#000" stroke-width="0.75"/>
<line x1="552.3" y1="369.5" x2="556.7" y2="369.5" stroke="#000" stroke-width="0.75"/>
<circle cx="552.5" cy="355" r="1.15" fill="#000"/>
<circle cx="556" cy="356.5" r="1.15" fill="#000"/>
<circle cx="554.5" cy="369.3" r="1.15" fill="#000"/>
<line x1="564.5" y1="333.5" x2="564.5" y2="388.5" stroke="#000" stroke-width="0.75"/>
<line x1="562.3" y1="333.5" x2="566.7" y2="333.5" stroke="#000" stroke-width="0.75"/>
<line x1="562.3" y1="388.5" x2="566.7" y2="388.5" stroke="#000" stroke-width="0.75"/>
<circle cx="564.5" cy="333.5" r="1.15" fill="#000"/>
<circle cx="564.5" cy="359.5" r="1.15" fill="#000"/>
<circle cx="564.5" cy="388" r="1.15" fill="#000"/>
<line x1="574.5" y1="396.5" x2="574.5" y2="402.5" stroke="#000" stroke-width="0.75"/>
<line x1="572.3" y1="396.5" x2="576.7" y2="396.5" stroke="#000" stroke-width="0.75"/>
<line x1="572.3" y1="402.5" x2="576.7" y2="402.5" stroke="#000" stroke-width="0.75"/>
<circle cx="574.5" cy="396.8" r="1.15" fill="#000"/>
<circle cx="573" cy="401" r="1.15" fill="#000"/>
<circle cx="576" cy="400.5" r="1.15" fill="#000"/>
<line x1="585.5" y1="385.5" x2="585.5" y2="395.5" stroke="#000" stroke-width="0.75"/>
<line x1="583.3" y1="385.5" x2="587.7" y2="385.5" stroke="#000" stroke-width="0.75"/>
<line x1="583.3" y1="395.5" x2="587.7" y2="395.5" stroke="#000" stroke-width="0.75"/>
<circle cx="585.5" cy="385.5" r="1.15" fill="#000"/>
<circle cx="585.5" cy="391" r="1.15" fill="#000"/>
<circle cx="585.5" cy="394" r="1.15" fill="#000"/>
<line x1="514.5" y1="293.5" x2="523.8" y2="293.5" stroke="#262626" stroke-width="0.95"/>
<text x="519" y="294.2" font-size="12" text-anchor="middle">***</text>
<line x1="515.4" y1="305.5" x2="534.9" y2="305.5" stroke="#262626" stroke-width="0.95"/>
<text x="524.7" y="306.7" font-size="12" text-anchor="middle">**</text>
<line x1="504.1" y1="318.5" x2="523.8" y2="318.5" stroke="#262626" stroke-width="0.95"/>
<text x="513.6" y="319" font-size="12" text-anchor="middle">***</text>
<line x1="504.1" y1="329.5" x2="536.1" y2="329.5" stroke="#262626" stroke-width="0.95"/>
<text x="519.8" y="330.4" font-size="12" text-anchor="middle">**</text>
<line x1="564.3" y1="293.5" x2="574.3" y2="293.5" stroke="#262626" stroke-width="0.95"/>
<text x="569.3" y="294.2" font-size="12" text-anchor="middle">**</text>
<line x1="565.5" y1="305.5" x2="585" y2="305.5" stroke="#262626" stroke-width="0.95"/>
<text x="575" y="306.7" font-size="12" text-anchor="middle">*</text>
<line x1="554.3" y1="318.5" x2="574.3" y2="318.5" stroke="#262626" stroke-width="0.95"/>
<text x="563.8" y="319" font-size="12" text-anchor="middle">**</text>
<line x1="554.3" y1="329.5" x2="586.3" y2="329.5" stroke="#262626" stroke-width="0.95"/>
<text x="570" y="330.4" font-size="12" text-anchor="middle">*</text>
<rect x="625.6" y="299" width="6.6" height="3" fill="#cce0f6"/>
<text x="637.3" y="304.5" font-size="12.5">KATO-III</text>
<rect x="625.6" y="313.1" width="6.6" height="3" fill="#68a6fa"/>
<text x="637.3" y="318.6" font-size="12.5">MKN-45</text>
<rect x="625.6" y="327.3" width="6.6" height="3" fill="#f6dcdf"/>
<text x="637.3" y="332.8" font-size="12.5">MKN-1</text>
<rect x="625.6" y="341.5" width="6.6" height="3" fill="#f0767f"/>
<text x="637.3" y="347" font-size="12.5">HeLa</text>
<text x="108.1" y="494.7" font-size="12.5" text-anchor="middle" font-weight="bold" fill="#000">Cancer tissues</text>
<text x="108.4" y="514.3" font-size="12.5" text-anchor="middle">18F-FDG-PET/CT</text>
<text x="78.1" y="530.5" font-size="12.5" text-anchor="middle">Negative</text>
<text x="136.3" y="530.5" font-size="12.5" text-anchor="middle">Positive</text>
<line x1="53.8" y1="536.8" x2="101.8" y2="536.8" stroke="#333" stroke-width="1.1"/>
<line x1="113" y1="536.8" x2="160" y2="536.8" stroke="#333" stroke-width="1.1"/>
<text x="6.2" y="553.8" font-size="12.5">Patient</text>
<text x="58.8" y="553.8" font-size="12.5" text-anchor="middle">1</text>
<text x="78.3" y="553.8" font-size="12.5" text-anchor="middle">2</text>
<text x="98" y="553.8" font-size="12.5" text-anchor="middle">3</text>
<text x="117.5" y="553.8" font-size="12.5" text-anchor="middle">4</text>
<text x="137.5" y="553.8" font-size="12.5" text-anchor="middle">5</text>
<text x="157.5" y="553.8" font-size="12.5" text-anchor="middle">6</text>
<clipPath id="c6"><rect x="48.9" y="561.1" width="121" height="18.9"/></clipPath>
<g clip-path="url(#c6)">
<rect x="48.9" y="561.1" width="121" height="18.9" fill="#9b9b9b"/>
<rect x="50.7" y="567.3" width="15" height="5.4" rx="2.7" ry="2.7" fill="#111" opacity="1" filter="url(#b9)"/>
<rect x="49.2" y="565.5" width="18" height="9" rx="4.5" ry="4.5" fill="#444" opacity="0.4" filter="url(#b15)"/>
<rect x="70.1" y="565.9" width="15" height="5" rx="2.5" ry="2.5" fill="#111" opacity="1" filter="url(#b9)"/>
<rect x="68.6" y="564.1" width="18" height="9" rx="4.5" ry="4.5" fill="#444" opacity="0.4" filter="url(#b15)"/>
<rect x="89.7" y="567.1" width="16" height="4.6" rx="2.3" ry="2.3" fill="#1c1c1c" opacity="1" filter="url(#b9)"/>
<rect x="88.7" y="565.4" width="18" height="8" rx="4" ry="4" fill="#444" opacity="0.35" filter="url(#b15)"/>
<rect x="111.2" y="572.3" width="12" height="2.6" rx="1.3" ry="1.3" fill="#333" opacity="0.85" filter="url(#b9)"/>
<rect x="129.7" y="572" width="13" height="2.8" rx="1.4" ry="1.4" fill="#2c2c2c" opacity="0.9" filter="url(#b9)"/>
<rect x="111.5" y="566.75" width="11" height="3.5" rx="1.75" ry="1.75" fill="#555" opacity="0.5" filter="url(#b15)"/>
<rect x="131.5" y="566.25" width="11" height="3.5" rx="1.75" ry="1.75" fill="#555" opacity="0.45" filter="url(#b15)"/>
<rect x="151.5" y="568.6" width="13" height="2.4" rx="1.2" ry="1.2" fill="#4a4a4a" opacity="0.65" filter="url(#b10)"/>
<rect x="152" y="569.5" width="12" height="5" rx="2.5" ry="2.5" fill="#666" opacity="0.3" filter="url(#b15)"/>
<rect x="130" y="561" width="40" height="18" rx="9" ry="9" fill="#aaa" opacity="0.35" filter="url(#b30)"/>
</g>
<clipPath id="c7"><rect x="48.9" y="585.3" width="121" height="18.3"/></clipPath>
<g clip-path="url(#c7)">
<rect x="48.9" y="585.3" width="121" height="18.3" fill="#dedede"/>
<rect x="51.45" y="591" width="16.5" height="5.6" rx="2.8" ry="2.8" fill="#0a0a0a" opacity="1" filter="url(#b8)"/>
<rect x="71.55" y="590.8" width="16.5" height="7.6" rx="3.8" ry="3.8" fill="#0a0a0a" opacity="1" filter="url(#b8)"/>
<rect x="91.05" y="592" width="17.5" height="3.4" rx="1.7" ry="1.7" fill="#0a0a0a" opacity="1" filter="url(#b6)"/>
<rect x="112.3" y="590.2" width="15" height="7.6" rx="3.8" ry="3.8" fill="#0a0a0a" opacity="1" filter="url(#b8)"/>
<rect x="131.2" y="592" width="15" height="3.2" rx="1.6" ry="1.6" fill="#0a0a0a" opacity="1" filter="url(#b6)"/>
<rect x="151.35" y="592" width="14.5" height="3.2" rx="1.6" ry="1.6" fill="#0a0a0a" opacity="1" filter="url(#b6)"/>
</g>
<rect x="48.9" y="585.3" width="121" height="18.3" fill="none" stroke="#b1b1b1" stroke-width="0.7"/>
<clipPath id="c8"><rect x="48.9" y="609.2" width="121" height="18.4"/></clipPath>
<g clip-path="url(#c8)">
<rect x="48.9" y="609.2" width="121" height="18.4" fill="#c9c9c9"/>
<rect x="53.5" y="617.95" width="14" height="4.5" rx="2.25" ry="2.25" fill="#888" opacity="0.55" filter="url(#b15)"/>
<rect x="74.5" y="618.5" width="12" height="4" rx="2" ry="2" fill="#888" opacity="0.4" filter="url(#b15)"/>
<rect x="93.25" y="613.25" width="13.5" height="7.5" rx="3.75" ry="3.75" fill="#444" opacity="0.85" filter="url(#b13)"/>
<rect x="93.5" y="618.5" width="13" height="2.8" rx="1.4" ry="1.4" fill="#111" opacity="1" filter="url(#b8)"/>
<rect x="114" y="618" width="10" height="4" rx="2" ry="2" fill="#999" opacity="0.35" filter="url(#b15)"/>
<rect x="131.85" y="612.6" width="13.5" height="7.8" rx="3.9" ry="3.9" fill="#444" opacity="0.85" filter="url(#b13)"/>
<rect x="132.1" y="617.5" width="13" height="2.6" rx="1.3" ry="1.3" fill="#222" opacity="0.9" filter="url(#b8)"/>
<rect x="150.6" y="614.1" width="14" height="7" rx="3.5" ry="3.5" fill="#666" opacity="0.65" filter="url(#b15)"/>
<rect x="151.1" y="618.5" width="13" height="2.2" rx="1.1" ry="1.1" fill="#444" opacity="0.7" filter="url(#b10)"/>
</g>
<rect x="48.9" y="609.2" width="121" height="18.4" fill="none" stroke="#a0a0a0" stroke-width="0.7"/>
<clipPath id="c9"><rect x="48.9" y="633.3" width="121" height="18.4"/></clipPath>
<g clip-path="url(#c9)">
<rect x="48.9" y="633.3" width="121" height="18.4" fill="#8e8e8e"/>
<rect x="55.15" y="641.3" width="10.5" height="3" rx="1.5" ry="1.5" fill="#222222" opacity="0.95" filter="url(#b10)"/>
<rect x="71.05" y="640.8" width="15.5" height="4.4" rx="2.2" ry="2.2" fill="#222222" opacity="1" filter="url(#b10)"/>
<rect x="90.65" y="639.4" width="16.5" height="6.4" rx="3.2" ry="3.2" fill="#222222" opacity="1" filter="url(#b10)"/>
<rect x="111" y="640.6" width="13" height="4.4" rx="2.2" ry="2.2" fill="#222222" opacity="1" filter="url(#b10)"/>
<rect x="129.4" y="639.2" width="14" height="6" rx="3" ry="3" fill="#222222" opacity="1" filter="url(#b10)"/>
<rect x="147.45" y="640.3" width="17.5" height="5" rx="2.5" ry="2.5" fill="#222222" opacity="1" filter="url(#b10)"/>
<rect x="120" y="645.5" width="5" height="7" rx="2.5" ry="3.5" fill="#333" opacity="0.6" filter="url(#b15)"/>
<rect x="129.5" y="646.5" width="4" height="6" rx="2" ry="3" fill="#444" opacity="0.4" filter="url(#b15)"/>
</g>
<clipPath id="c10"><rect x="48.9" y="657.2" width="121" height="18.5"/></clipPath>
<g clip-path="url(#c10)">
<rect x="48.9" y="657.2" width="121" height="18.5" fill="#ebebeb"/>
<rect x="52.3" y="663.9" width="18" height="4.6" rx="2.3" ry="2.3" fill="#0a0a0a" opacity="1" filter="url(#b6)"/>
<rect x="72.65" y="664.7" width="17.5" height="4.6" rx="2.3" ry="2.3" fill="#0a0a0a" opacity="1" filter="url(#b6)"/>
<rect x="92.05" y="664.7" width="18.5" height="4.6" rx="2.3" ry="2.3" fill="#0a0a0a" opacity="1" filter="url(#b6)"/>
<rect x="112.05" y="664.8" width="17.5" height="4.4" rx="2.2" ry="2.2" fill="#0a0a0a" opacity="1" filter="url(#b6)"/>
<rect x="130.95" y="664.4" width="17.5" height="4.4" rx="2.2" ry="2.2" fill="#0a0a0a" opacity="1" filter="url(#b6)"/>
<rect x="150.45" y="663.6" width="16.5" height="4.4" rx="2.2" ry="2.2" fill="#0a0a0a" opacity="1" filter="url(#b6)"/>
<rect x="55" y="665.8" width="110" height="1.6" rx="0.8" ry="0.8" fill="#0a0a0a" opacity="0.8" filter="url(#b6)"/>
</g>
<rect x="48.9" y="657.2" width="121" height="18.5" fill="none" stroke="#bcbcbc" stroke-width="0.7"/>
<text x="42.2" y="573.06" font-size="9.9" text-anchor="end">55</text>
<line x1="44.4" y1="568.7" x2="47.6" y2="568.7" stroke="#222" stroke-width="0.9"/>
<text x="42.2" y="597.36" font-size="9.9" text-anchor="end">43</text>
<line x1="44.4" y1="593" x2="47.6" y2="593" stroke="#222" stroke-width="0.9"/>
<text x="42.2" y="625.56" font-size="9.9" text-anchor="end">72</text>
<line x1="44.4" y1="621.2" x2="47.6" y2="621.2" stroke="#222" stroke-width="0.9"/>
<text x="42.2" y="651.86" font-size="9.9" text-anchor="end">95</text>
<line x1="44.4" y1="647.5" x2="47.6" y2="647.5" stroke="#222" stroke-width="0.9"/>
<text x="42.2" y="673.16" font-size="9.9" text-anchor="end">43</text>
<line x1="44.4" y1="668.8" x2="47.6" y2="668.8" stroke="#222" stroke-width="0.9"/>
<text x="41.2" y="683.1" font-size="9.6" text-anchor="end">kDa</text>
<text x="174" y="577.8" font-size="12.8">PPARγ</text>
<text x="174" y="602.1" font-size="12.8">CREB1</text>
<text x="174" y="625.8" font-size="12.8">FOXO1</text>
<text x="174" y="650" font-size="12.8">PGC-1α</text>
<text x="174" y="674.1" font-size="12.8">Actin</text>
<rect x="268" y="501.3" width="6.6" height="3" fill="#68a6fa"/>
<text x="281" y="506.8" font-size="12.5">Negative</text>
<rect x="268" y="524.5" width="6.6" height="3" fill="#f0767f"/>
<text x="281" y="530" font-size="12.5">Positive</text>
<rect x="274.25" y="586" width="10.2" height="51.75" fill="#68a6fa"/>
<rect x="289" y="625.5" width="10.2" height="12.25" fill="#f0767f"/>
<rect x="314.25" y="586" width="10.2" height="51.75" fill="#68a6fa"/>
<rect x="329.2" y="599.3" width="10.2" height="38.45" fill="#f0767f"/>
<rect x="355" y="586" width="10.2" height="51.75" fill="#68a6fa"/>
<rect x="370" y="599.3" width="10.2" height="38.45" fill="#f0767f"/>
<rect x="395" y="586" width="10.2" height="51.75" fill="#68a6fa"/>
<rect x="410" y="604" width="10.2" height="33.75" fill="#f0767f"/>
<line x1="267.9" y1="637.75" x2="425.75" y2="637.75" stroke="#2c2c2c" stroke-width="1.2"/>
<line x1="268.5" y1="533.65" x2="268.5" y2="638.35" stroke="#2c2c2c" stroke-width="1.2"/>
<line x1="265.5" y1="534.25" x2="268.5" y2="534.25" stroke="#2c2c2c" stroke-width="1.1"/>
<text x="263" y="538.18" font-size="12.3" text-anchor="end">2.0</text>
<line x1="265.5" y1="560.12" x2="268.5" y2="560.12" stroke="#2c2c2c" stroke-width="1.1"/>
<text x="263" y="564.05" font-size="12.3" text-anchor="end">1.5</text>
<line x1="265.5" y1="586" x2="268.5" y2="586" stroke="#2c2c2c" stroke-width="1.1"/>
<text x="263" y="589.93" font-size="12.3" text-anchor="end">1.0</text>
<line x1="265.5" y1="611.88" x2="268.5" y2="611.88" stroke="#2c2c2c" stroke-width="1.1"/>
<text x="263" y="615.8" font-size="12.3" text-anchor="end">0.5</text>
<line x1="265.5" y1="637.75" x2="268.5" y2="637.75" stroke="#2c2c2c" stroke-width="1.1"/>
<text x="263" y="641.68" font-size="12.3" text-anchor="end">0</text>
<text x="238.2" y="585" font-size="12.63" text-anchor="middle" transform="rotate(-90 238.2 585)">Relative Protein Level (A.U.)</text>
<text x="290.6" y="642.3" font-size="12.5" text-anchor="end" transform="rotate(-90 290.6 642.3)">PPARγ</text>
<text x="331.1" y="642.3" font-size="12.5" text-anchor="end" transform="rotate(-90 331.1 642.3)">CREB1</text>
<text x="371.6" y="642.3" font-size="12.5" text-anchor="end" transform="rotate(-90 371.6 642.3)">FOXO1</text>
<text x="412.1" y="642.3" font-size="12.5" text-anchor="end" transform="rotate(-90 412.1 642.3)">PGC-1α</text>
<line x1="279.5" y1="565.5" x2="279.5" y2="606.5" stroke="#333" stroke-width="0.7"/>
<line x1="276.2" y1="565.5" x2="282.8" y2="565.5" stroke="#333" stroke-width="0.7"/>
<line x1="276.2" y1="606.5" x2="282.8" y2="606.5" stroke="#333" stroke-width="0.7"/>
<circle cx="279.5" cy="562.8" r="1.15" fill="#000"/>
<circle cx="279.5" cy="596.5" r="1.15" fill="#000"/>
<circle cx="279.5" cy="599.8" r="1.15" fill="#000"/>
<line x1="294.5" y1="622.5" x2="294.5" y2="628.5" stroke="#333" stroke-width="0.7"/>
<line x1="291.9" y1="622.5" x2="297.1" y2="622.5" stroke="#333" stroke-width="0.7"/>
<line x1="291.9" y1="628.5" x2="297.1" y2="628.5" stroke="#333" stroke-width="0.7"/>
<circle cx="294.5" cy="622.3" r="1.15" fill="#000"/>
<circle cx="294.5" cy="625.5" r="1.15" fill="#000"/>
<circle cx="294.5" cy="628" r="1.15" fill="#000"/>
<line x1="319.5" y1="572.5" x2="319.5" y2="599.5" stroke="#000" stroke-width="0.7"/>
<line x1="316.9" y1="572.5" x2="322.1" y2="572.5" stroke="#000" stroke-width="0.7"/>
<line x1="316.9" y1="599.5" x2="322.1" y2="599.5" stroke="#000" stroke-width="0.7"/>
<circle cx="319.5" cy="572.3" r="1.15" fill="#000"/>
<circle cx="319.5" cy="586" r="1.15" fill="#000"/>
<circle cx="319.5" cy="599.8" r="1.15" fill="#000"/>
<line x1="334.5" y1="587.5" x2="334.5" y2="609.5" stroke="#000" stroke-width="0.7"/>
<line x1="331.9" y1="587.5" x2="337.1" y2="587.5" stroke="#000" stroke-width="0.7"/>
<line x1="331.9" y1="609.5" x2="337.1" y2="609.5" stroke="#000" stroke-width="0.7"/>
<circle cx="334.5" cy="587.3" r="1.15" fill="#000"/>
<circle cx="334.5" cy="601" r="1.15" fill="#000"/>
<circle cx="334.5" cy="609.3" r="1.15" fill="#000"/>
<line x1="359.5" y1="573.5" x2="359.5" y2="599.5" stroke="#000" stroke-width="0.7"/>
<line x1="356.9" y1="573.5" x2="362.1" y2="573.5" stroke="#000" stroke-width="0.7"/>
<line x1="356.9" y1="599.5" x2="362.1" y2="599.5" stroke="#000" stroke-width="0.7"/>
<circle cx="359.5" cy="573" r="1.15" fill="#000"/>
<circle cx="359.5" cy="585.5" r="1.15" fill="#000"/>
<circle cx="359.5" cy="599.3" r="1.15" fill="#000"/>
<line x1="375.5" y1="587.5" x2="375.5" y2="609.5" stroke="#000" stroke-width="0.7"/>
<line x1="372.9" y1="587.5" x2="378.1" y2="587.5" stroke="#000" stroke-width="0.7"/>
<line x1="372.9" y1="609.5" x2="378.1" y2="609.5" stroke="#000" stroke-width="0.7"/>
<circle cx="375.5" cy="587.8" r="1.15" fill="#000"/>
<circle cx="375.5" cy="601" r="1.15" fill="#000"/>
<circle cx="375.5" cy="609" r="1.15" fill="#000"/>
<line x1="400.5" y1="579.5" x2="400.5" y2="594.5" stroke="#000" stroke-width="0.7"/>
<line x1="397.9" y1="579.5" x2="403.1" y2="579.5" stroke="#000" stroke-width="0.7"/>
<line x1="397.9" y1="594.5" x2="403.1" y2="594.5" stroke="#000" stroke-width="0.7"/>
<circle cx="400.5" cy="579.3" r="1.15" fill="#000"/>
<circle cx="400.5" cy="582" r="1.15" fill="#000"/>
<circle cx="400.5" cy="594" r="1.15" fill="#000"/>
<line x1="415.5" y1="593.5" x2="415.5" y2="615.5" stroke="#000" stroke-width="0.7"/>
<line x1="412.9" y1="593.5" x2="418.1" y2="593.5" stroke="#000" stroke-width="0.7"/>
<line x1="412.9" y1="615.5" x2="418.1" y2="615.5" stroke="#000" stroke-width="0.7"/>
<circle cx="415.5" cy="593.5" r="1.15" fill="#000"/>
<circle cx="415.5" cy="601.5" r="1.15" fill="#000"/>
<circle cx="415.5" cy="615.5" r="1.15" fill="#000"/>
<line x1="281" y1="553.5" x2="294" y2="553.5" stroke="#262626" stroke-width="0.95"/>
<text x="286.8" y="552.5" font-size="12" text-anchor="middle">**</text>
<line x1="320.5" y1="567.5" x2="334" y2="567.5" stroke="#262626" stroke-width="0.95"/>
<text x="326.8" y="563.6" font-size="12" text-anchor="middle">ns</text>
<line x1="360.8" y1="567.5" x2="374.5" y2="567.5" stroke="#262626" stroke-width="0.95"/>
<text x="367.5" y="563.6" font-size="12" text-anchor="middle">ns</text>
<line x1="401.3" y1="567.5" x2="414.5" y2="567.5" stroke="#262626" stroke-width="0.95"/>
<text x="407.8" y="563.6" font-size="12" text-anchor="middle">ns</text>
<text x="556.8" y="526.8" font-size="12.5" text-anchor="middle" font-weight="bold" fill="#000">PPARγ-ChIP</text>
<rect x="512.8" y="571.8" width="10.2" height="64.7" fill="#68a6fa"/>
<rect x="524.2" y="605" width="10.1" height="31.5" fill="#f0767f"/>
<rect x="545" y="571.8" width="10" height="64.7" fill="#68a6fa"/>
<rect x="556" y="593.5" width="10" height="43" fill="#f0767f"/>
<line x1="505.65" y1="636.5" x2="602.5" y2="636.5" stroke="#2c2c2c" stroke-width="1.2"/>
<line x1="506.25" y1="539.15" x2="506.25" y2="637.1" stroke="#2c2c2c" stroke-width="1.2"/>
<line x1="503.25" y1="539.75" x2="506.25" y2="539.75" stroke="#2c2c2c" stroke-width="1.1"/>
<text x="500.75" y="543.68" font-size="12.3" text-anchor="end">1.5</text>
<line x1="503.25" y1="572" x2="506.25" y2="572" stroke="#2c2c2c" stroke-width="1.1"/>
<text x="500.75" y="575.93" font-size="12.3" text-anchor="end">1.0</text>
<line x1="503.25" y1="604.25" x2="506.25" y2="604.25" stroke="#2c2c2c" stroke-width="1.1"/>
<text x="500.75" y="608.18" font-size="12.3" text-anchor="end">0.5</text>
<line x1="503.25" y1="636.5" x2="506.25" y2="636.5" stroke="#2c2c2c" stroke-width="1.1"/>
<text x="500.75" y="640.43" font-size="12.3" text-anchor="end">0</text>
<text x="478.2" y="585.8" font-size="12.6" text-anchor="middle" transform="rotate(-90 478.2 585.8)">Relative %Input</text>
<text x="526.8" y="642.3" font-size="12.3" text-anchor="end" transform="rotate(-90 526.8 642.3)">PCK2</text>
<text x="558.8" y="642.3" font-size="12.3" text-anchor="end" transform="rotate(-90 558.8 642.3)">CPT1A</text>
<text x="591.8" y="642.3" font-size="12.3" text-anchor="end" transform="rotate(-90 591.8 642.3)">GLUT1</text>
<line x1="518.5" y1="556.5" x2="518.5" y2="586.5" stroke="#000" stroke-width="0.7"/>
<line x1="515.9" y1="556.5" x2="521.1" y2="556.5" stroke="#000" stroke-width="0.7"/>
<line x1="515.9" y1="586.5" x2="521.1" y2="586.5" stroke="#000" stroke-width="0.7"/>
<circle cx="518.5" cy="556.5" r="1.15" fill="#000"/>
<circle cx="518.5" cy="576" r="1.15" fill="#000"/>
<circle cx="518.5" cy="586" r="1.15" fill="#000"/>
<line x1="528.5" y1="594.5" x2="528.5" y2="616.5" stroke="#000" stroke-width="0.7"/>
<line x1="525.9" y1="594.5" x2="531.1" y2="594.5" stroke="#000" stroke-width="0.7"/>
<line x1="525.9" y1="616.5" x2="531.1" y2="616.5" stroke="#000" stroke-width="0.7"/>
<circle cx="528.5" cy="598.5" r="1.15" fill="#000"/>
<circle cx="528.5" cy="601" r="1.15" fill="#000"/>
<circle cx="528.5" cy="616" r="1.15" fill="#000"/>
<line x1="549.5" y1="561.5" x2="549.5" y2="581.5" stroke="#000" stroke-width="0.7"/>
<line x1="546.9" y1="561.5" x2="552.1" y2="561.5" stroke="#000" stroke-width="0.7"/>
<line x1="546.9" y1="581.5" x2="552.1" y2="581.5" stroke="#000" stroke-width="0.7"/>
<circle cx="549.5" cy="561" r="1.15" fill="#000"/>
<circle cx="549.5" cy="575.5" r="1.15" fill="#000"/>
<circle cx="549.5" cy="579" r="1.15" fill="#000"/>
<line x1="561.5" y1="589.5" x2="561.5" y2="596.5" stroke="#000" stroke-width="0.7"/>
<line x1="558.9" y1="589.5" x2="564.1" y2="589.5" stroke="#000" stroke-width="0.7"/>
<line x1="558.9" y1="596.5" x2="564.1" y2="596.5" stroke="#000" stroke-width="0.7"/>
<circle cx="561.5" cy="589.8" r="1.15" fill="#000"/>
<circle cx="561.5" cy="593.5" r="1.15" fill="#000"/>
<circle cx="561.5" cy="596" r="1.15" fill="#000"/>
<circle cx="579.3" cy="636.2" r="0.8" fill="#000"/>
<circle cx="582.6" cy="636.2" r="0.8" fill="#000"/>
<circle cx="585.9" cy="636.2" r="0.8" fill="#000"/>
<circle cx="589.2" cy="636.2" r="0.8" fill="#000"/>
<circle cx="592.5" cy="636.2" r="0.8" fill="#000"/>
<circle cx="595.8" cy="636.2" r="0.8" fill="#000"/>
<line x1="517.5" y1="550.5" x2="528.5" y2="550.5" stroke="#262626" stroke-width="0.95"/>
<text x="523" y="549.3" font-size="12" text-anchor="middle">**</text>
<line x1="550" y1="550.5" x2="560.5" y2="550.5" stroke="#262626" stroke-width="0.95"/>
<text x="555.5" y="549.3" font-size="12" text-anchor="middle">*</text>
<rect x="594.3" y="537" width="6.6" height="3" fill="#68a6fa"/>
<text x="606" y="542.5" font-size="12.5">Negative</text>
<rect x="594.3" y="557.5" width="6.6" height="3" fill="#f0767f"/>
<text x="606" y="563" font-size="12.5">Positive</text>
<text x="55.6" y="746.8" font-size="12.5" text-anchor="middle">KATO-III</text>
<text x="110.4" y="746.8" font-size="12.5" text-anchor="middle">MKN-45</text>
<text x="162.9" y="746.8" font-size="12.5" text-anchor="middle">MKN-1</text>
<text x="211.6" y="746.8" font-size="12.5" text-anchor="middle">HeLa</text>
<text x="39.65" y="818.6" font-size="12.45" transform="rotate(-90 39.65 818.6)">siNC</text>
<text x="92.55" y="818.6" font-size="12.45" transform="rotate(-90 92.55 818.6)">siNC</text>
<text x="146.35" y="818.6" font-size="12.45" transform="rotate(-90 146.35 818.6)">siNC</text>
<text x="197.6" y="818.6" font-size="12.45" transform="rotate(-90 197.6 818.6)">siNC</text>
<text x="56.05" y="818.6" font-size="12.45" transform="rotate(-90 56.05 818.6)">siPPARγ #1</text>
<text x="108.3" y="818.6" font-size="12.45" transform="rotate(-90 108.3 818.6)">siPPARγ #1</text>
<text x="161.6" y="818.6" font-size="12.45" transform="rotate(-90 161.6 818.6)">siPPARγ #1</text>
<text x="212.8" y="818.6" font-size="12.45" transform="rotate(-90 212.8 818.6)">siPPARγ #1</text>
<text x="72.3" y="818.6" font-size="12.45" transform="rotate(-90 72.3 818.6)">siPPARγ #2</text>
<text x="124.6" y="818.6" font-size="12.45" transform="rotate(-90 124.6 818.6)">siPPARγ #2</text>
<text x="177" y="818.6" font-size="12.45" transform="rotate(-90 177 818.6)">siPPARγ #2</text>
<text x="226.1" y="818.6" font-size="12.45" transform="rotate(-90 226.1 818.6)">siPPARγ #2</text>
<clipPath id="c11"><rect x="27.3" y="826.6" width="49.1" height="15.3"/></clipPath>
<g clip-path="url(#c11)">
<rect x="27.3" y="826.6" width="49.1" height="15.3" fill="#d9d9d9"/>
<rect x="24.5" y="826.3" width="17" height="5.4" rx="2.7" ry="2.7" fill="#000" opacity="1" filter="url(#b10)"/>
<rect x="28" y="833" width="14" height="3" rx="1.5" ry="1.5" fill="#000" opacity="1" filter="url(#b8)"/>
<rect x="26" y="828.5" width="15" height="7" rx="3.5" ry="3.5" fill="#222" opacity="0.75" filter="url(#b15)"/>
<rect x="27" y="826" width="6" height="10" rx="3" ry="5" fill="#000" opacity="0.7" filter="url(#b15)"/>
<rect x="48.5" y="834" width="3" height="2" rx="1" ry="1" fill="#777" opacity="0.4" filter="url(#b10)"/>
<rect x="63" y="834" width="6" height="2" rx="1" ry="1" fill="#888" opacity="0.35" filter="url(#b15)"/>
</g>
<rect x="27.3" y="826.6" width="49.1" height="15.3" fill="none" stroke="#adadad" stroke-width="0.7"/>
<clipPath id="c12"><rect x="80.2" y="826.6" width="48.7" height="15.3"/></clipPath>
<g clip-path="url(#c12)">
<rect x="80.2" y="826.6" width="48.7" height="15.3" fill="#d9d9d9"/>
<rect x="74" y="823.5" width="24" height="18" rx="9" ry="9" fill="#4a4a4a" opacity="0.6" filter="url(#b30)"/>
<rect x="81.25" y="832.5" width="12.5" height="3" rx="1.5" ry="1.5" fill="#0a0a0a" opacity="1" filter="url(#b7)"/>
<rect x="98.5" y="832.5" width="4" height="2" rx="1" ry="1" fill="#555" opacity="0.5" filter="url(#b10)"/>
<rect x="107.25" y="832.9" width="3.5" height="1.8" rx="0.9" ry="0.9" fill="#777" opacity="0.4" filter="url(#b10)"/>
<rect x="115.5" y="832.6" width="5" height="1.8" rx="0.9" ry="0.9" fill="#888" opacity="0.35" filter="url(#b10)"/>
</g>
<rect x="80.2" y="826.6" width="48.7" height="15.3" fill="none" stroke="#adadad" stroke-width="0.7"/>
<clipPath id="c13"><rect x="132.4" y="826.6" width="49" height="15.3"/></clipPath>
<g clip-path="url(#c13)">
<rect x="132.4" y="826.6" width="49" height="15.3" fill="#dadada"/>
<rect x="120" y="825" width="60" height="5" rx="2.5" ry="2.5" fill="#888" opacity="0.5" filter="url(#b20)"/>
<rect x="137" y="832.2" width="12" height="2" rx="1" ry="1" fill="#888" opacity="0.45" filter="url(#b15)"/>
<rect x="173" y="825" width="10" height="18" rx="5" ry="9" fill="#999" opacity="0.45" filter="url(#b30)"/>
</g>
<rect x="132.4" y="826.6" width="49" height="15.3" fill="none" stroke="#aeaeae" stroke-width="0.7"/>
<clipPath id="c14"><rect x="184.7" y="826.6" width="48.9" height="15.3"/></clipPath>
<g clip-path="url(#c14)">
<rect x="184.7" y="826.6" width="48.9" height="15.3" fill="#dcdcdc"/>
<rect x="181" y="823" width="26" height="20" rx="10" ry="10" fill="#5a5a5a" opacity="0.6" filter="url(#b30)"/>
<rect x="187.3" y="826.2" width="12" height="5.2" rx="2.6" ry="2.6" fill="#000" opacity="1" filter="url(#b15)"/>
<rect x="187" y="826.5" width="8" height="4" rx="2" ry="2" fill="#000" opacity="0.8" filter="url(#b10)"/>
<rect x="188.5" y="833.7" width="10" height="2.2" rx="1.1" ry="1.1" fill="#0a0a0a" opacity="0.85" filter="url(#b10)"/>
<rect x="202.5" y="830.5" width="8" height="12" rx="4" ry="6" fill="#6a6a6a" opacity="0.55" filter="url(#b20)"/>
<rect x="218" y="833" width="8" height="2" rx="1" ry="1" fill="#aaa" opacity="0.35" filter="url(#b15)"/>
</g>
<rect x="184.7" y="826.6" width="48.9" height="15.3" fill="none" stroke="#b0b0b0" stroke-width="0.7"/>
<clipPath id="c15"><rect x="27.3" y="845.9" width="49.1" height="15.4"/></clipPath>
<g clip-path="url(#c15)">
<rect x="27.3" y="845.9" width="49.1" height="15.4" fill="#cbcbcb"/>
<rect x="29.45" y="852.1" width="13.5" height="3.4" rx="1.7" ry="1.7" fill="#0a0a0a" opacity="1" filter="url(#b6)"/>
<rect x="30" y="858.3" width="12" height="2" rx="1" ry="1" fill="#666" opacity="0.55" filter="url(#b10)"/>
<rect x="47.15" y="852.2" width="10.5" height="2.2" rx="1.1" ry="1.1" fill="#555" opacity="0.7" filter="url(#b9)"/>
<rect x="53.5" y="852.2" width="4" height="2" rx="1" ry="1" fill="#333" opacity="0.5" filter="url(#b8)"/>
<rect x="61.95" y="852.45" width="12.5" height="2.3" rx="1.15" ry="1.15" fill="#444" opacity="0.8" filter="url(#b9)"/>
</g>
<rect x="27.3" y="845.9" width="49.1" height="15.4" fill="none" stroke="#a2a2a2" stroke-width="0.7"/>
<clipPath id="c16"><rect x="80.2" y="845.9" width="48.7" height="15.4"/></clipPath>
<g clip-path="url(#c16)">
<rect x="80.2" y="845.9" width="48.7" height="15.4" fill="#cbcbcb"/>
<rect x="81.9" y="850.9" width="12" height="3.8" rx="1.9" ry="1.9" fill="#0a0a0a" opacity="1" filter="url(#b6)"/>
<rect x="96.95" y="851.4" width="12.5" height="2.4" rx="1.2" ry="1.2" fill="#3a3a3a" opacity="0.85" filter="url(#b9)"/>
<rect x="114.2" y="851.65" width="12" height="2.7" rx="1.35" ry="1.35" fill="#2a2a2a" opacity="0.9" filter="url(#b9)"/>
<rect x="122" y="855" width="6" height="5" rx="2.5" ry="2.5" fill="#999" opacity="0.4" filter="url(#b20)"/>
</g>
<rect x="80.2" y="845.9" width="48.7" height="15.4" fill="none" stroke="#a2a2a2" stroke-width="0.7"/>
<clipPath id="c17"><rect x="132.4" y="845.9" width="49" height="15.4"/></clipPath>
<g clip-path="url(#c17)">
<rect x="132.4" y="845.9" width="49" height="15.4" fill="#d2d2d2"/>
<rect x="133.55" y="851.9" width="13.5" height="2" rx="1" ry="1" fill="#444" opacity="0.8" filter="url(#b10)"/>
<rect x="151.25" y="852.1" width="11.5" height="1.8" rx="0.9" ry="0.9" fill="#777" opacity="0.55" filter="url(#b10)"/>
<rect x="168" y="852.4" width="9" height="1.6" rx="0.8" ry="0.8" fill="#999" opacity="0.4" filter="url(#b10)"/>
<rect x="135" y="857.2" width="12" height="1.6" rx="0.8" ry="0.8" fill="#999" opacity="0.35" filter="url(#b10)"/>
</g>
<rect x="132.4" y="845.9" width="49" height="15.4" fill="none" stroke="#a8a8a8" stroke-width="0.7"/>
<clipPath id="c18"><rect x="184.7" y="845.9" width="48.9" height="15.4"/></clipPath>
<g clip-path="url(#c18)">
<rect x="184.7" y="845.9" width="48.9" height="15.4" fill="#d4d4d4"/>
<rect x="187" y="852.1" width="13" height="1.8" rx="0.9" ry="0.9" fill="#777" opacity="0.6" filter="url(#b10)"/>
<rect x="203" y="852.3" width="11" height="1.8" rx="0.9" ry="0.9" fill="#888" opacity="0.5" filter="url(#b10)"/>
<rect x="218" y="851.6" width="13" height="2" rx="1" ry="1" fill="#777" opacity="0.55" filter="url(#b10)"/>
<rect x="208" y="857" width="20" height="2" rx="1" ry="1" fill="#aaa" opacity="0.35" filter="url(#b15)"/>
</g>
<rect x="184.7" y="845.9" width="48.9" height="15.4" fill="none" stroke="#a9a9a9" stroke-width="0.7"/>
<clipPath id="c19"><rect x="27.3" y="864.9" width="49.1" height="15.2"/></clipPath>
<g clip-path="url(#c19)">
<rect x="27.3" y="864.9" width="49.1" height="15.2" fill="#c7c7c7"/>
<rect x="29" y="865.1" width="12" height="1" rx="0.5" ry="0.5" fill="#333" opacity="0.8" filter="url(#b6)"/>
<rect x="28.75" y="869.8" width="12.5" height="3" rx="1.5" ry="1.5" fill="#8a8a8a" opacity="0.7" filter="url(#b15)"/>
<rect x="47" y="870" width="10" height="2.6" rx="1.3" ry="1.3" fill="#999" opacity="0.5" filter="url(#b15)"/>
<rect x="63" y="869.9" width="11" height="2.8" rx="1.4" ry="1.4" fill="#999" opacity="0.55" filter="url(#b15)"/>
</g>
<rect x="27.3" y="864.9" width="49.1" height="15.2" fill="none" stroke="#9f9f9f" stroke-width="0.7"/>
<clipPath id="c20"><rect x="80.2" y="864.9" width="48.7" height="15.2"/></clipPath>
<g clip-path="url(#c20)">
<rect x="80.2" y="864.9" width="48.7" height="15.2" fill="#c7c7c7"/>
<rect x="82.5" y="865" width="7" height="1" rx="0.5" ry="0.5" fill="#333" opacity="0.7" filter="url(#b6)"/>
<rect x="81.5" y="869.5" width="12" height="3.4" rx="1.7" ry="1.7" fill="#6a6a6a" opacity="0.75" filter="url(#b15)"/>
<rect x="98" y="870" width="10" height="2.6" rx="1.3" ry="1.3" fill="#999" opacity="0.5" filter="url(#b15)"/>
<rect x="114.5" y="869.9" width="11" height="2.8" rx="1.4" ry="1.4" fill="#909090" opacity="0.55" filter="url(#b15)"/>
</g>
<rect x="80.2" y="864.9" width="48.7" height="15.2" fill="none" stroke="#9f9f9f" stroke-width="0.7"/>
<clipPath id="c21"><rect x="132.4" y="864.9" width="49" height="15.2"/></clipPath>
<g clip-path="url(#c21)">
<rect x="132.4" y="864.9" width="49" height="15.2" fill="#c6c6c6"/>
<rect x="134.5" y="870" width="11" height="3" rx="1.5" ry="1.5" fill="#aaa" opacity="0.5" filter="url(#b15)"/>
<rect x="133" y="864" width="6" height="8" rx="3" ry="4" fill="#b4b4b4" opacity="0.5" filter="url(#b20)"/>
</g>
<rect x="132.4" y="864.9" width="49" height="15.2" fill="none" stroke="#9e9e9e" stroke-width="0.7"/>
<clipPath id="c22"><rect x="184.7" y="864.9" width="48.9" height="15.2"/></clipPath>
<g clip-path="url(#c22)">
<rect x="184.7" y="864.9" width="48.9" height="15.2" fill="#dfdfdf"/>
<rect x="188" y="870.1" width="10" height="2.4" rx="1.2" ry="1.2" fill="#c4c4c4" opacity="0.6" filter="url(#b15)"/>
<rect x="203.5" y="870.1" width="9" height="2.4" rx="1.2" ry="1.2" fill="#c8c8c8" opacity="0.5" filter="url(#b15)"/>
<rect x="218.5" y="870" width="12" height="3" rx="1.5" ry="1.5" fill="#b8b8b8" opacity="0.65" filter="url(#b15)"/>
</g>
<rect x="184.7" y="864.9" width="48.9" height="15.2" fill="none" stroke="#b2b2b2" stroke-width="0.7"/>
<clipPath id="c23"><rect x="27.3" y="883.9" width="49.1" height="15.5"/></clipPath>
<g clip-path="url(#c23)">
<rect x="27.3" y="883.9" width="49.1" height="15.5" fill="#ededed"/>
<rect x="28.55" y="890.1" width="14.5" height="3" rx="1.5" ry="1.5" fill="#0a0a0a" opacity="1" filter="url(#b6)"/>
<rect x="43.55" y="890.05" width="15.5" height="3.1" rx="1.55" ry="1.55" fill="#0a0a0a" opacity="1" filter="url(#b6)"/>
<rect x="60.55" y="889.9" width="15.5" height="3" rx="1.5" ry="1.5" fill="#0a0a0a" opacity="1" filter="url(#b6)"/>
<rect x="30" y="890.9" width="44" height="1.4" rx="0.7" ry="0.7" fill="#0a0a0a" opacity="0.9" filter="url(#b6)"/>
</g>
<rect x="27.3" y="883.9" width="49.1" height="15.5" fill="none" stroke="#bdbdbd" stroke-width="0.7"/>
<clipPath id="c24"><rect x="80.2" y="883.9" width="48.7" height="15.5"/></clipPath>
<g clip-path="url(#c24)">
<rect x="80.2" y="883.9" width="48.7" height="15.5" fill="#ededed"/>
<rect x="80.3" y="889.25" width="16" height="3.3" rx="1.65" ry="1.65" fill="#0a0a0a" opacity="1" filter="url(#b6)"/>
<rect x="96.1" y="890.6" width="15" height="4" rx="2" ry="2" fill="#0a0a0a" opacity="1" filter="url(#b6)"/>
<rect x="111" y="889.45" width="16" height="3.1" rx="1.55" ry="1.55" fill="#0a0a0a" opacity="1" filter="url(#b6)"/>
<rect x="82" y="890.7" width="44" height="1.4" rx="0.7" ry="0.7" fill="#0a0a0a" opacity="0.9" filter="url(#b6)"/>
</g>
<rect x="80.2" y="883.9" width="48.7" height="15.5" fill="none" stroke="#bdbdbd" stroke-width="0.7"/>
<clipPath id="c25"><rect x="132.4" y="883.9" width="49" height="15.5"/></clipPath>
<g clip-path="url(#c25)">
<rect x="132.4" y="883.9" width="49" height="15.5" fill="#ededed"/>
<rect x="133.7" y="889.75" width="15" height="3.3" rx="1.65" ry="1.65" fill="#0a0a0a" opacity="1" filter="url(#b6)"/>
<rect x="151.55" y="888.7" width="13.5" height="3.8" rx="1.9" ry="1.9" fill="#0a0a0a" opacity="1" filter="url(#b6)"/>
<rect x="166.85" y="889.45" width="13.5" height="3.5" rx="1.75" ry="1.75" fill="#0a0a0a" opacity="1" filter="url(#b6)"/>
<rect x="135" y="890.55" width="44" height="1.3" rx="0.65" ry="0.65" fill="#0a0a0a" opacity="0.85" filter="url(#b6)"/>
</g>
<rect x="132.4" y="883.9" width="49" height="15.5" fill="none" stroke="#bdbdbd" stroke-width="0.7"/>
<clipPath id="c26"><rect x="184.7" y="883.9" width="48.9" height="15.5"/></clipPath>
<g clip-path="url(#c26)">
<rect x="184.7" y="883.9" width="48.9" height="15.5" fill="#ededed"/>
<rect x="185.3" y="889.75" width="16" height="3.1" rx="1.55" ry="1.55" fill="#0a0a0a" opacity="1" filter="url(#b6)"/>
<rect x="202.2" y="889.75" width="14" height="2.9" rx="1.45" ry="1.45" fill="#0a0a0a" opacity="1" filter="url(#b6)"/>
<rect x="217.75" y="889.45" width="14.5" height="3.1" rx="1.55" ry="1.55" fill="#0a0a0a" opacity="1" filter="url(#b6)"/>
<rect x="187" y="890.65" width="44" height="1.3" rx="0.65" ry="0.65" fill="#0a0a0a" opacity="0.85" filter="url(#b6)"/>
</g>
<rect x="184.7" y="883.9" width="48.9" height="15.5" fill="none" stroke="#bdbdbd" stroke-width="0.7"/>
<text x="19.9" y="836.62" font-size="9.5" text-anchor="end">55</text>
<line x1="23.7" y1="832.1" x2="26.9" y2="832.1" stroke="#222" stroke-width="0.9"/>
<text x="19.9" y="854.52" font-size="9.5" text-anchor="end">75</text>
<line x1="23.7" y1="850" x2="26.9" y2="850" stroke="#222" stroke-width="0.9"/>
<text x="19.9" y="872.22" font-size="9.5" text-anchor="end">95</text>
<line x1="23.7" y1="867.7" x2="26.9" y2="867.7" stroke="#222" stroke-width="0.9"/>
<text x="19.9" y="899.92" font-size="9.5" text-anchor="end">43</text>
<line x1="23.7" y1="895.4" x2="26.9" y2="895.4" stroke="#222" stroke-width="0.9"/>
<text x="28" y="909.4" font-size="9.55" text-anchor="end">kDa</text>
<text x="239" y="840.1" font-size="12.8">PPARγ</text>
<text x="239" y="858.9" font-size="12.8">PCK2</text>
<text x="239" y="877.6" font-size="12.8">CPT1A</text>
<text x="239" y="895.6" font-size="12.8">Actin</text>
<rect x="342.8" y="728.8" width="6.2" height="2.8" fill="#cce0f6"/>
<text x="353.4" y="734.2" font-size="12.5">KATO-III</text>
<rect x="434.3" y="728.8" width="6.2" height="2.8" fill="#68a6fa"/>
<text x="445" y="734.2" font-size="12.5">MKN-45</text>
<rect x="522.3" y="728.8" width="6.2" height="2.8" fill="#f6dcdf"/>
<text x="532.5" y="734.2" font-size="12.5">MKN-1</text>
<rect x="606.7" y="728.8" width="6.2" height="2.8" fill="#f0767f"/>
<text x="617.7" y="734.2" font-size="12.5">HeLa</text>
<rect x="329.1" y="802.1" width="8" height="42.65" fill="#cce0f6"/>
<rect x="338.85" y="831" width="8" height="13.75" fill="#cce0f6"/>
<rect x="348.45" y="831" width="8" height="13.75" fill="#cce0f6"/>
<rect x="366" y="801.2" width="8" height="43.55" fill="#68a6fa"/>
<rect x="375.75" y="843.9" width="8" height="0.85" fill="#68a6fa"/>
<rect x="385.35" y="842.1" width="8" height="2.65" fill="#68a6fa"/>
<rect x="403" y="801.7" width="8" height="43.05" fill="#f6dcdf"/>
<rect x="412.75" y="809.1" width="8" height="35.65" fill="#f6dcdf"/>
<rect x="422.35" y="814" width="8" height="30.75" fill="#f6dcdf"/>
<rect x="439.4" y="802" width="8" height="42.75" fill="#f0767f"/>
<rect x="449.15" y="811.4" width="8" height="33.35" fill="#f0767f"/>
<rect x="458.75" y="816.1" width="8" height="28.65" fill="#f0767f"/>
<line x1="325.4" y1="844.75" x2="470.8" y2="844.75" stroke="#2c2c2c" stroke-width="1.2"/>
<line x1="326" y1="779.65" x2="326" y2="845.35" stroke="#2c2c2c" stroke-width="1.2"/>
<line x1="323" y1="780.25" x2="326" y2="780.25" stroke="#2c2c2c" stroke-width="1.1"/>
<text x="321.1" y="784.03" font-size="11.9" text-anchor="end">1.5</text>
<line x1="323" y1="801.75" x2="326" y2="801.75" stroke="#2c2c2c" stroke-width="1.1"/>
<text x="321.1" y="805.53" font-size="11.9" text-anchor="end">1.0</text>
<line x1="323" y1="823.25" x2="326" y2="823.25" stroke="#2c2c2c" stroke-width="1.1"/>
<text x="321.1" y="827.03" font-size="11.9" text-anchor="end">0.5</text>
<line x1="323" y1="844.75" x2="326" y2="844.75" stroke="#2c2c2c" stroke-width="1.1"/>
<text x="321.1" y="848.53" font-size="11.9" text-anchor="end">0</text>
<line x1="333.1" y1="844.75" x2="333.1" y2="846.55" stroke="#2c2c2c" stroke-width="1"/>
<line x1="333.5" y1="797.5" x2="333.5" y2="806.5" stroke="#444" stroke-width="0.7"/>
<line x1="331.7" y1="797.5" x2="335.3" y2="797.5" stroke="#444" stroke-width="0.7"/>
<line x1="331.7" y1="806.5" x2="335.3" y2="806.5" stroke="#444" stroke-width="0.7"/>
<circle cx="333.6" cy="796.3" r="0.55" fill="#333"/>
<circle cx="333.6" cy="809" r="0.55" fill="#333"/>
<line x1="342.85" y1="844.75" x2="342.85" y2="846.55" stroke="#2c2c2c" stroke-width="1"/>
<line x1="342.5" y1="826.5" x2="342.5" y2="835.5" stroke="#444" stroke-width="0.7"/>
<line x1="340.7" y1="826.5" x2="344.3" y2="826.5" stroke="#444" stroke-width="0.7"/>
<line x1="340.7" y1="835.5" x2="344.3" y2="835.5" stroke="#444" stroke-width="0.7"/>
<circle cx="342.85" cy="826.5" r="0.55" fill="#333"/>
<circle cx="342.85" cy="838.5" r="0.55" fill="#333"/>
<line x1="352.45" y1="844.75" x2="352.45" y2="846.55" stroke="#2c2c2c" stroke-width="1"/>
<line x1="352.5" y1="827.5" x2="352.5" y2="834.5" stroke="#444" stroke-width="0.7"/>
<line x1="350.7" y1="827.5" x2="354.3" y2="827.5" stroke="#444" stroke-width="0.7"/>
<line x1="350.7" y1="834.5" x2="354.3" y2="834.5" stroke="#444" stroke-width="0.7"/>
<circle cx="352.45" cy="827.5" r="0.55" fill="#333"/>
<circle cx="352.45" cy="836.5" r="0.55" fill="#333"/>
<line x1="370" y1="844.75" x2="370" y2="846.55" stroke="#2c2c2c" stroke-width="1"/>
<line x1="370.5" y1="800.5" x2="370.5" y2="801.5" stroke="#444" stroke-width="0.7"/>
<line x1="368.7" y1="800.5" x2="372.3" y2="800.5" stroke="#444" stroke-width="0.7"/>
<line x1="368.7" y1="801.5" x2="372.3" y2="801.5" stroke="#444" stroke-width="0.7"/>
<line x1="379.75" y1="844.75" x2="379.75" y2="846.55" stroke="#2c2c2c" stroke-width="1"/>
<line x1="379.5" y1="842.5" x2="379.5" y2="845.5" stroke="#444" stroke-width="0.7"/>
<line x1="377.7" y1="842.5" x2="381.3" y2="842.5" stroke="#444" stroke-width="0.7"/>
<line x1="377.7" y1="845.5" x2="381.3" y2="845.5" stroke="#444" stroke-width="0.7"/>
<circle cx="379.75" cy="842.5" r="0.55" fill="#333"/>
<line x1="389.35" y1="844.75" x2="389.35" y2="846.55" stroke="#2c2c2c" stroke-width="1"/>
<line x1="389.5" y1="840.5" x2="389.5" y2="844.5" stroke="#444" stroke-width="0.7"/>
<line x1="387.7" y1="840.5" x2="391.3" y2="840.5" stroke="#444" stroke-width="0.7"/>
<line x1="387.7" y1="844.5" x2="391.3" y2="844.5" stroke="#444" stroke-width="0.7"/>
<circle cx="389.35" cy="840.3" r="0.55" fill="#333"/>
<line x1="407" y1="844.75" x2="407" y2="846.55" stroke="#2c2c2c" stroke-width="1"/>
<line x1="407.5" y1="801.5" x2="407.5" y2="802.5" stroke="#444" stroke-width="0.7"/>
<line x1="405.7" y1="801.5" x2="409.3" y2="801.5" stroke="#444" stroke-width="0.7"/>
<line x1="405.7" y1="802.5" x2="409.3" y2="802.5" stroke="#444" stroke-width="0.7"/>
<line x1="416.75" y1="844.75" x2="416.75" y2="846.55" stroke="#2c2c2c" stroke-width="1"/>
<line x1="416.5" y1="798.5" x2="416.5" y2="819.5" stroke="#444" stroke-width="0.7"/>
<line x1="414.7" y1="798.5" x2="418.3" y2="798.5" stroke="#444" stroke-width="0.7"/>
<line x1="414.7" y1="819.5" x2="418.3" y2="819.5" stroke="#444" stroke-width="0.7"/>
<circle cx="416.75" cy="793" r="0.55" fill="#333"/>
<circle cx="416.75" cy="829.8" r="0.55" fill="#333"/>
<line x1="426.35" y1="844.75" x2="426.35" y2="846.55" stroke="#2c2c2c" stroke-width="1"/>
<line x1="426.5" y1="806.5" x2="426.5" y2="820.5" stroke="#444" stroke-width="0.7"/>
<line x1="424.7" y1="806.5" x2="428.3" y2="806.5" stroke="#444" stroke-width="0.7"/>
<line x1="424.7" y1="820.5" x2="428.3" y2="820.5" stroke="#444" stroke-width="0.7"/>
<circle cx="426.35" cy="806.7" r="0.55" fill="#333"/>
<circle cx="426.35" cy="826.7" r="0.55" fill="#333"/>
<line x1="443.4" y1="844.75" x2="443.4" y2="846.55" stroke="#2c2c2c" stroke-width="1"/>
<line x1="443.5" y1="801.5" x2="443.5" y2="802.5" stroke="#444" stroke-width="0.7"/>
<line x1="441.7" y1="801.5" x2="445.3" y2="801.5" stroke="#444" stroke-width="0.7"/>
<line x1="441.7" y1="802.5" x2="445.3" y2="802.5" stroke="#444" stroke-width="0.7"/>
<line x1="453.15" y1="844.75" x2="453.15" y2="846.55" stroke="#2c2c2c" stroke-width="1"/>
<line x1="453.5" y1="810.5" x2="453.5" y2="812.5" stroke="#444" stroke-width="0.7"/>
<line x1="451.7" y1="810.5" x2="455.3" y2="810.5" stroke="#444" stroke-width="0.7"/>
<line x1="451.7" y1="812.5" x2="455.3" y2="812.5" stroke="#444" stroke-width="0.7"/>
<circle cx="453.15" cy="810.8" r="0.55" fill="#333"/>
<line x1="462.75" y1="844.75" x2="462.75" y2="846.55" stroke="#2c2c2c" stroke-width="1"/>
<line x1="462.5" y1="812.5" x2="462.5" y2="820.5" stroke="#444" stroke-width="0.7"/>
<line x1="460.7" y1="812.5" x2="464.3" y2="812.5" stroke="#444" stroke-width="0.7"/>
<line x1="460.7" y1="820.5" x2="464.3" y2="820.5" stroke="#444" stroke-width="0.7"/>
<circle cx="462.75" cy="808" r="0.55" fill="#333"/>
<circle cx="462.75" cy="821.5" r="0.55" fill="#333"/>
<text x="299" y="813.5" font-size="11.8" text-anchor="middle" transform="rotate(-90 299 813.5)">Relative PCK2 mRNA (A.U.)</text>
<text x="336.9" y="848.9" font-size="11.5" text-anchor="end" transform="rotate(-90 336.9 848.9)">siNC</text>
<text x="346.65" y="848.9" font-size="11.5" text-anchor="end" transform="rotate(-90 346.65 848.9)">siPPARγ #1</text>
<text x="356.25" y="848.9" font-size="11.5" text-anchor="end" transform="rotate(-90 356.25 848.9)">siPPARγ #2</text>
<text x="373.8" y="848.9" font-size="11.5" text-anchor="end" transform="rotate(-90 373.8 848.9)">siNC</text>
<text x="383.55" y="848.9" font-size="11.5" text-anchor="end" transform="rotate(-90 383.55 848.9)">siPPARγ #1</text>
<text x="393.15" y="848.9" font-size="11.5" text-anchor="end" transform="rotate(-90 393.15 848.9)">siPPARγ #2</text>
<text x="410.8" y="848.9" font-size="11.5" text-anchor="end" transform="rotate(-90 410.8 848.9)">siNC</text>
<text x="420.55" y="848.9" font-size="11.5" text-anchor="end" transform="rotate(-90 420.55 848.9)">siPPARγ #1</text>
<text x="430.15" y="848.9" font-size="11.5" text-anchor="end" transform="rotate(-90 430.15 848.9)">siPPARγ #2</text>
<text x="447.2" y="848.9" font-size="11.5" text-anchor="end" transform="rotate(-90 447.2 848.9)">siNC</text>
<text x="456.95" y="848.9" font-size="11.5" text-anchor="end" transform="rotate(-90 456.95 848.9)">siPPARγ #1</text>
<text x="466.55" y="848.9" font-size="11.5" text-anchor="end" transform="rotate(-90 466.55 848.9)">siPPARγ #2</text>
<line x1="333.2" y1="781.5" x2="352.5" y2="781.5" stroke="#666666" stroke-width="1.2"/>
<text x="342" y="780.6" font-size="12" text-anchor="middle">***</text>
<line x1="333.7" y1="791.5" x2="342.5" y2="791.5" stroke="#666666" stroke-width="1.2"/>
<text x="337.6" y="792.5" font-size="12" text-anchor="middle">***</text>
<line x1="370.1" y1="781.5" x2="389.1" y2="781.5" stroke="#666666" stroke-width="1.2"/>
<text x="378.9" y="780.6" font-size="12" text-anchor="middle">****</text>
<line x1="370.1" y1="791.5" x2="379.2" y2="791.5" stroke="#666666" stroke-width="1.2"/>
<text x="374.5" y="792.5" font-size="12" text-anchor="middle">****</text>
<line x1="406.5" y1="780.5" x2="425.4" y2="780.5" stroke="#666666" stroke-width="1.2"/>
<text x="415.4" y="777.4" font-size="12" text-anchor="middle">ns</text>
<line x1="405.6" y1="790.5" x2="415.8" y2="790.5" stroke="#666666" stroke-width="1.2"/>
<text x="410.5" y="789.3" font-size="12" text-anchor="middle">ns</text>
<line x1="442.3" y1="780.5" x2="461.3" y2="780.5" stroke="#666666" stroke-width="1.2"/>
<text x="452" y="777.4" font-size="12" text-anchor="middle">ns</text>
<line x1="442" y1="790.5" x2="452" y2="790.5" stroke="#666666" stroke-width="1.2"/>
<text x="447.2" y="789.3" font-size="12" text-anchor="middle">ns</text>
<rect x="536" y="813.5" width="8" height="31.8" fill="#cce0f6"/>
<rect x="545.5" y="839.6" width="8" height="5.7" fill="#cce0f6"/>
<rect x="555.1" y="841.3" width="8" height="4" fill="#cce0f6"/>
<rect x="572.4" y="812.7" width="8" height="32.6" fill="#68a6fa"/>
<rect x="581.9" y="841.3" width="8" height="4" fill="#68a6fa"/>
<rect x="591.5" y="841.3" width="8" height="4" fill="#68a6fa"/>
<rect x="609.2" y="813.1" width="8" height="32.2" fill="#f6dcdf"/>
<rect x="618.7" y="825.8" width="8" height="19.5" fill="#f6dcdf"/>
<rect x="628.3" y="820.1" width="8" height="25.2" fill="#f6dcdf"/>
<rect x="646.3" y="812.7" width="8" height="32.6" fill="#f0767f"/>
<rect x="655.8" y="825.8" width="8" height="19.5" fill="#f0767f"/>
<rect x="665.4" y="810.6" width="8" height="34.7" fill="#f0767f"/>
<line x1="530.8" y1="845.3" x2="678" y2="845.3" stroke="#2c2c2c" stroke-width="1.2"/>
<line x1="531.4" y1="780" x2="531.4" y2="845.9" stroke="#2c2c2c" stroke-width="1.2"/>
<line x1="528.4" y1="780.6" x2="531.4" y2="780.6" stroke="#2c2c2c" stroke-width="1.1"/>
<text x="527" y="784.38" font-size="11.9" text-anchor="end">2.0</text>
<line x1="528.4" y1="796.77" x2="531.4" y2="796.77" stroke="#2c2c2c" stroke-width="1.1"/>
<text x="527" y="800.56" font-size="11.9" text-anchor="end">1.5</text>
<line x1="528.4" y1="812.95" x2="531.4" y2="812.95" stroke="#2c2c2c" stroke-width="1.1"/>
<text x="527" y="816.73" font-size="11.9" text-anchor="end">1.0</text>
<line x1="528.4" y1="829.12" x2="531.4" y2="829.12" stroke="#2c2c2c" stroke-width="1.1"/>
<text x="527" y="832.91" font-size="11.9" text-anchor="end">0.5</text>
<line x1="528.4" y1="845.3" x2="531.4" y2="845.3" stroke="#2c2c2c" stroke-width="1.1"/>
<text x="527" y="849.08" font-size="11.9" text-anchor="end">0</text>
<line x1="540" y1="845.3" x2="540" y2="847.1" stroke="#2c2c2c" stroke-width="1"/>
<line x1="540.5" y1="813.5" x2="540.5" y2="813.5" stroke="#444" stroke-width="0.7"/>
<line x1="538.7" y1="813.5" x2="542.3" y2="813.5" stroke="#444" stroke-width="0.7"/>
<line x1="538.7" y1="813.5" x2="542.3" y2="813.5" stroke="#444" stroke-width="0.7"/>
<line x1="549.5" y1="845.3" x2="549.5" y2="847.1" stroke="#2c2c2c" stroke-width="1"/>
<line x1="549.5" y1="836.5" x2="549.5" y2="842.5" stroke="#444" stroke-width="0.7"/>
<line x1="547.7" y1="836.5" x2="551.3" y2="836.5" stroke="#444" stroke-width="0.7"/>
<line x1="547.7" y1="842.5" x2="551.3" y2="842.5" stroke="#444" stroke-width="0.7"/>
<circle cx="549.5" cy="836.5" r="0.55" fill="#333"/>
<line x1="559.1" y1="845.3" x2="559.1" y2="847.1" stroke="#2c2c2c" stroke-width="1"/>
<line x1="559.5" y1="840.5" x2="559.5" y2="842.5" stroke="#444" stroke-width="0.7"/>
<line x1="557.7" y1="840.5" x2="561.3" y2="840.5" stroke="#444" stroke-width="0.7"/>
<line x1="557.7" y1="842.5" x2="561.3" y2="842.5" stroke="#444" stroke-width="0.7"/>
<circle cx="559.1" cy="840.3" r="0.55" fill="#333"/>
<line x1="576.4" y1="845.3" x2="576.4" y2="847.1" stroke="#2c2c2c" stroke-width="1"/>
<line x1="576.5" y1="812.5" x2="576.5" y2="813.5" stroke="#444" stroke-width="0.7"/>
<line x1="574.7" y1="812.5" x2="578.3" y2="812.5" stroke="#444" stroke-width="0.7"/>
<line x1="574.7" y1="813.5" x2="578.3" y2="813.5" stroke="#444" stroke-width="0.7"/>
<line x1="585.9" y1="845.3" x2="585.9" y2="847.1" stroke="#2c2c2c" stroke-width="1"/>
<line x1="585.5" y1="840.5" x2="585.5" y2="842.5" stroke="#444" stroke-width="0.7"/>
<line x1="583.7" y1="840.5" x2="587.3" y2="840.5" stroke="#444" stroke-width="0.7"/>
<line x1="583.7" y1="842.5" x2="587.3" y2="842.5" stroke="#444" stroke-width="0.7"/>
<circle cx="585.9" cy="840" r="0.55" fill="#333"/>
<line x1="595.5" y1="845.3" x2="595.5" y2="847.1" stroke="#2c2c2c" stroke-width="1"/>
<line x1="595.5" y1="838.5" x2="595.5" y2="843.5" stroke="#444" stroke-width="0.7"/>
<line x1="593.7" y1="838.5" x2="597.3" y2="838.5" stroke="#444" stroke-width="0.7"/>
<line x1="593.7" y1="843.5" x2="597.3" y2="843.5" stroke="#444" stroke-width="0.7"/>
<circle cx="595.5" cy="838.5" r="0.55" fill="#333"/>
<line x1="613.2" y1="845.3" x2="613.2" y2="847.1" stroke="#2c2c2c" stroke-width="1"/>
<line x1="613.5" y1="812.5" x2="613.5" y2="814.5" stroke="#444" stroke-width="0.7"/>
<line x1="611.7" y1="812.5" x2="615.3" y2="812.5" stroke="#444" stroke-width="0.7"/>
<line x1="611.7" y1="814.5" x2="615.3" y2="814.5" stroke="#444" stroke-width="0.7"/>
<circle cx="613.2" cy="812" r="0.55" fill="#333"/>
<line x1="622.7" y1="845.3" x2="622.7" y2="847.1" stroke="#2c2c2c" stroke-width="1"/>
<line x1="622.5" y1="822.5" x2="622.5" y2="830.5" stroke="#444" stroke-width="0.7"/>
<line x1="620.7" y1="822.5" x2="624.3" y2="822.5" stroke="#444" stroke-width="0.7"/>
<line x1="620.7" y1="830.5" x2="624.3" y2="830.5" stroke="#444" stroke-width="0.7"/>
<circle cx="622.7" cy="819" r="0.55" fill="#333"/>
<circle cx="622.7" cy="834" r="0.55" fill="#333"/>
<line x1="632.3" y1="845.3" x2="632.3" y2="847.1" stroke="#2c2c2c" stroke-width="1"/>
<line x1="632.5" y1="812.5" x2="632.5" y2="827.5" stroke="#444" stroke-width="0.7"/>
<line x1="630.7" y1="812.5" x2="634.3" y2="812.5" stroke="#444" stroke-width="0.7"/>
<line x1="630.7" y1="827.5" x2="634.3" y2="827.5" stroke="#444" stroke-width="0.7"/>
<circle cx="632.3" cy="812.5" r="0.55" fill="#333"/>
<circle cx="632.3" cy="835.5" r="0.55" fill="#333"/>
<line x1="650.3" y1="845.3" x2="650.3" y2="847.1" stroke="#2c2c2c" stroke-width="1"/>
<line x1="650.5" y1="812.5" x2="650.5" y2="813.5" stroke="#444" stroke-width="0.7"/>
<line x1="648.7" y1="812.5" x2="652.3" y2="812.5" stroke="#444" stroke-width="0.7"/>
<line x1="648.7" y1="813.5" x2="652.3" y2="813.5" stroke="#444" stroke-width="0.7"/>
<line x1="659.8" y1="845.3" x2="659.8" y2="847.1" stroke="#2c2c2c" stroke-width="1"/>
<line x1="659.5" y1="820.5" x2="659.5" y2="831.5" stroke="#444" stroke-width="0.7"/>
<line x1="657.7" y1="820.5" x2="661.3" y2="820.5" stroke="#444" stroke-width="0.7"/>
<line x1="657.7" y1="831.5" x2="661.3" y2="831.5" stroke="#444" stroke-width="0.7"/>
<circle cx="659.8" cy="815.5" r="0.55" fill="#333"/>
<circle cx="659.8" cy="834" r="0.55" fill="#333"/>
<line x1="669.4" y1="845.3" x2="669.4" y2="847.1" stroke="#2c2c2c" stroke-width="1"/>
<line x1="669.5" y1="796.5" x2="669.5" y2="824.5" stroke="#444" stroke-width="0.7"/>
<line x1="667.7" y1="796.5" x2="671.3" y2="796.5" stroke="#444" stroke-width="0.7"/>
<line x1="667.7" y1="824.5" x2="671.3" y2="824.5" stroke="#444" stroke-width="0.7"/>
<circle cx="669.4" cy="783.5" r="0.55" fill="#333"/>
<circle cx="669.4" cy="816" r="0.55" fill="#333"/>
<circle cx="669.4" cy="831" r="0.55" fill="#333"/>
<text x="506.3" y="813.8" font-size="11.8" text-anchor="middle" transform="rotate(-90 506.3 813.8)">Relative CPT1A mRNA (A.U.)</text>
<text x="543.8" y="849.3" font-size="11.5" text-anchor="end" transform="rotate(-90 543.8 849.3)">siNC</text>
<text x="553.3" y="849.3" font-size="11.5" text-anchor="end" transform="rotate(-90 553.3 849.3)">siPPARγ #1</text>
<text x="562.9" y="849.3" font-size="11.5" text-anchor="end" transform="rotate(-90 562.9 849.3)">siPPARγ #2</text>
<text x="580.2" y="849.3" font-size="11.5" text-anchor="end" transform="rotate(-90 580.2 849.3)">siNC</text>
<text x="589.7" y="849.3" font-size="11.5" text-anchor="end" transform="rotate(-90 589.7 849.3)">siPPARγ #1</text>
<text x="599.3" y="849.3" font-size="11.5" text-anchor="end" transform="rotate(-90 599.3 849.3)">siPPARγ #2</text>
<text x="617" y="849.3" font-size="11.5" text-anchor="end" transform="rotate(-90 617 849.3)">siNC</text>
<text x="626.5" y="849.3" font-size="11.5" text-anchor="end" transform="rotate(-90 626.5 849.3)">siPPARγ #1</text>
<text x="636.1" y="849.3" font-size="11.5" text-anchor="end" transform="rotate(-90 636.1 849.3)">siPPARγ #2</text>
<text x="654.1" y="849.3" font-size="11.5" text-anchor="end" transform="rotate(-90 654.1 849.3)">siNC</text>
<text x="663.6" y="849.3" font-size="11.5" text-anchor="end" transform="rotate(-90 663.6 849.3)">siPPARγ #1</text>
<text x="673.2" y="849.3" font-size="11.5" text-anchor="end" transform="rotate(-90 673.2 849.3)">siPPARγ #2</text>
<line x1="539.5" y1="781.5" x2="558.6" y2="781.5" stroke="#666666" stroke-width="1.2"/>
<text x="548.5" y="782.2" font-size="12" text-anchor="middle">**</text>
<line x1="539.5" y1="792.5" x2="548.5" y2="792.5" stroke="#666666" stroke-width="1.2"/>
<text x="544" y="793.2" font-size="12" text-anchor="middle">**</text>
<line x1="576.4" y1="781.5" x2="595.7" y2="781.5" stroke="#666666" stroke-width="1.2"/>
<text x="585.1" y="782.2" font-size="12" text-anchor="middle">**</text>
<line x1="576.4" y1="792.5" x2="585.5" y2="792.5" stroke="#666666" stroke-width="1.2"/>
<text x="580.9" y="793.2" font-size="12" text-anchor="middle">**</text>
<line x1="613.5" y1="780.5" x2="631.4" y2="780.5" stroke="#666666" stroke-width="1.2"/>
<text x="621.5" y="777.4" font-size="12" text-anchor="middle">ns</text>
<line x1="613" y1="792.5" x2="621.5" y2="792.5" stroke="#666666" stroke-width="1.2"/>
<text x="616.8" y="789.5" font-size="12" text-anchor="middle">ns</text>
<line x1="650.1" y1="780.5" x2="668.1" y2="780.5" stroke="#666666" stroke-width="1.2"/>
<text x="658.5" y="777.4" font-size="12" text-anchor="middle">ns</text>
<line x1="649" y1="792.5" x2="657.9" y2="792.5" stroke="#666666" stroke-width="1.2"/>
<text x="653.7" y="789.5" font-size="12" text-anchor="middle">ns</text>
</svg>
</body>
</html>
